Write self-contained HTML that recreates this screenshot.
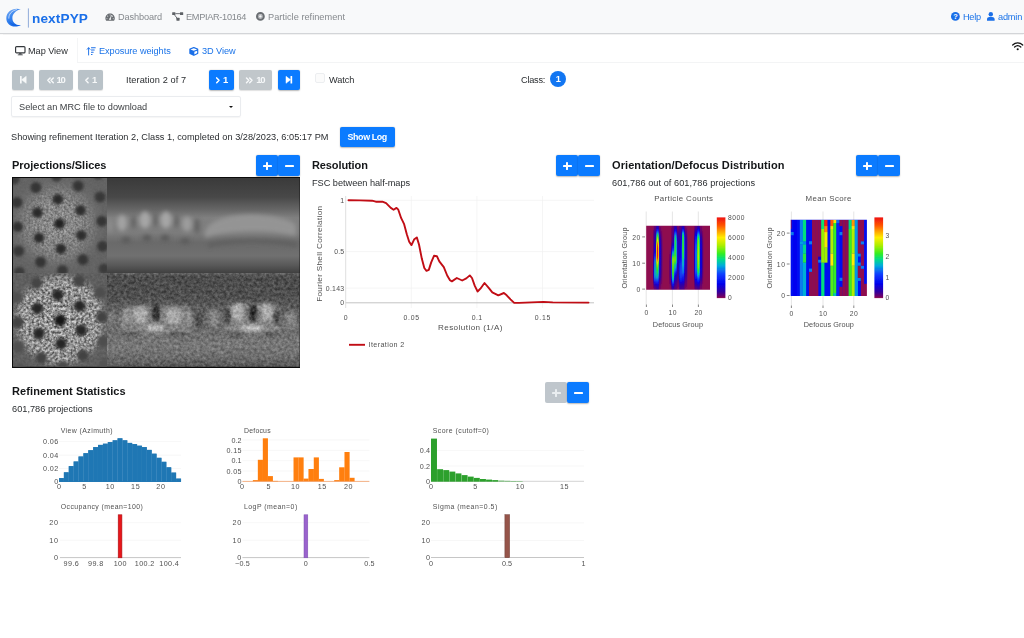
<!DOCTYPE html>
<html>
<head>
<meta charset="utf-8">
<title>nextPYP</title>
<style>
*{box-sizing:border-box;margin:0;padding:0}
html,body{width:1024px;height:638px;overflow:hidden;background:#fff}
body{font-family:"Liberation Sans",sans-serif;font-size:9.2px;color:#212529;position:relative}
.abs{position:absolute;white-space:nowrap;line-height:1}
.t,.h,.abs,.btn{will-change:transform}
.t{position:absolute;white-space:nowrap;line-height:1;font-size:9.2px;color:#2a2d30}
#nav{position:absolute;left:0;top:0;width:1024px;height:34px;background:#f8f9fa;border-bottom:1px solid #d3d5d8;box-shadow:0 0.5px 1px rgba(0,0,0,.05)}
.navt{color:#85898d}
.blue{color:#1a73e8}
.btn{position:absolute;height:20px;border-radius:2px;background:#0b7bff;color:#fff;font-weight:bold;font-size:9.5px;line-height:20.6px;white-space:nowrap;box-shadow:0 0.5px 1.5px rgba(0,0,0,.28)}
.btn.dis{background:#b9c2c8;color:#f6f8f9;box-shadow:0 0.5px 1px rgba(0,0,0,.12)}
.btn.dis2{background:#c1c7cb;color:#f6f8f9;box-shadow:0 0.5px 1px rgba(0,0,0,.12)}
.btn span{position:absolute;top:0;line-height:20.6px}
.pm{position:absolute;top:155.3px;width:22px;height:21.2px;background:#0b7bff;border-radius:2px;box-shadow:0 0.5px 1.5px rgba(0,0,0,.28)}
.pm.g{background:#bfc6cc;box-shadow:none}
.pm i{position:absolute;background:#fff;border-radius:.4px}
.pm i.h{left:6.6px;top:9.5px;width:8.6px;height:2.2px}
.pm i.v{left:9.8px;top:6.4px;width:2.2px;height:8.4px}
.pm.g i{background:#e9edf0}
.h{position:absolute;white-space:nowrap;line-height:1;font-weight:bold;font-size:11px;color:#141618}
svg{position:absolute;overflow:visible}
svg text{font-family:"Liberation Sans",sans-serif}
</style>
</head>
<body>
<!-- NAVBAR -->
<div id="nav"></div>
<svg style="left:0;top:0" width="40" height="34" viewBox="0 0 40 34">
  <defs>
    <linearGradient id="lg" x1="0" y1="0" x2="0.6" y2="1">
      <stop offset="0" stop-color="#8ab8f6"/><stop offset="0.45" stop-color="#3b86ee"/><stop offset="1" stop-color="#1266e6"/>
    </linearGradient>
  </defs>
  <path d="M20.8 9.3 C13.5 7.2 6.3 11.2 6.3 18.2 C6.3 25 13.5 29 21 25 C16.2 25.6 12.6 22.6 12.4 18.4 C12.2 14 15.6 10.6 20.8 9.3Z" fill="url(#lg)"/>
  <path d="M9 21.5 C11 25.2 15.5 26.6 20.5 25.1 C16 25.8 11.8 24.4 9 21.5Z" fill="#0f5fe0"/>
  <path d="M16.5 9.6 C11.8 10.6 8.7 14 8.8 18.2" fill="none" stroke="#c9defa" stroke-width="0.9" stroke-linecap="round"/>
  <rect x="27.9" y="8.4" width="0.9" height="19.2" fill="#86a3d6"/>
</svg>
<div class="abs" style="left:31.7px;top:11.8px;font-size:13.6px;font-weight:bold;color:#1a6fe8;--tw:55.9;letter-spacing:0.124px">nextPYP</div>

<svg style="left:105px;top:12.6px" width="10.2" height="8.4" viewBox="0 0 576 512"><path fill="#6a6e72" d="M288 32C128.940 32 0 160.940 0 320c0 52.800 14.250 102.260 39.060 144.800 5.610 9.620 16.300 15.200 27.440 15.200h443c11.140 0 21.830-5.580 27.440-15.200C561.750 422.260 576 372.800 576 320c0-159.060-128.940-288-288-288zm0 64c14.710 0 26.580 10.130 30.320 23.650-1.110 2.260-2.640 4.230-3.450 6.670l-9.220 27.670c-5.130 3.490-10.970 6.010-17.640 6.010-17.670 0-32-14.330-32-32S270.330 96 288 96zM96 384c-17.670 0-32-14.330-32-32s14.330-32 32-32 32 14.330 32 32-14.330 32-32 32zm48-160c-17.670 0-32-14.330-32-32s14.330-32 32-32 32 14.330 32 32-14.330 32-32 32zm246.770-72.410l-61.330 184C343.130 347.330 352 364.540 352 384c0 11.720-3.380 22.550-8.880 32H232.880c-5.500-9.450-8.880-20.280-8.880-32 0-33.940 26.500-61.430 59.900-63.590l61.340-184.010c4.170-12.560 17.730-19.450 30.360-15.170 12.570 4.190 19.350 17.790 15.170 30.360zm14.660 57.200l15.520-46.550c3.470-1.290 7.130-2.230 11.050-2.230 17.670 0 32 14.330 32 32s-14.330 32-32 32c-11.380-.010-20.890-6.280-26.570-15.220zM480 384c-17.670 0-32-14.330-32-32s14.330-32 32-32 32 14.330 32 32-14.330 32-32 32z"/></svg>
<div class="t navt" style="left:118px;top:13.0px;--tw:44.2;letter-spacing:-0.094px">Dashboard</div>

<svg style="left:171.6px;top:12.2px" width="11.4" height="8.9" viewBox="0 0 11.4 8.9">
  <g fill="#5d6165"><rect x="0.2" y="0.2" width="3.2" height="2.9" rx=".4"/><rect x="8" y="0.2" width="3.2" height="2.9" rx=".4"/><rect x="4.4" y="5.8" width="3.2" height="2.9" rx=".4"/></g>
  <path d="M3.4 1.65 H8 M2.3 2.6 L5.2 6.4" stroke="#5d6165" stroke-width="0.9" fill="none"/>
</svg>
<div class="t navt" style="left:185.8px;top:13.0px;--tw:60.4;letter-spacing:-0.313px">EMPIAR-10164</div>

<svg style="left:255.8px;top:12.3px" width="8.8" height="8.8" viewBox="0 0 8.8 8.8"><circle cx="4.4" cy="4.4" r="3.35" fill="none" stroke="#6a6e72" stroke-width="2.1"/><circle cx="4.4" cy="4.4" r="1.1" fill="#f2f3f4"/><circle cx="4.4" cy="4.4" r="2.2" fill="#6a6e72" opacity=".55"/><circle cx="4.4" cy="4.4" r="1.2" fill="#f4f5f6"/></svg>
<div class="t navt" style="left:267.5px;top:13.0px;--tw:77;letter-spacing:0.022px">Particle refinement</div>

<svg style="left:950.8px;top:12.2px" width="8.8" height="8.8" viewBox="0 0 8.8 8.8"><circle cx="4.4" cy="4.4" r="4.4" fill="#1a6fe8"/><text x="4.4" y="7.1" font-size="7.4" font-weight="bold" text-anchor="middle" fill="#fff">?</text></svg>
<div class="t blue" style="left:962.8px;top:13.0px;--tw:18.1;letter-spacing:-0.269px">Help</div>
<svg style="left:986.8px;top:12.4px" width="7.6" height="8.7" viewBox="0 0 7.6 8.7"><circle cx="3.8" cy="2.2" r="2.2" fill="#1a6fe8"/><path d="M0 8.7 V7.2 C0 5.6 1.2 4.9 2.4 4.9 H5.2 C6.4 4.9 7.6 5.6 7.6 7.2 V8.7Z" fill="#1a6fe8"/></svg>
<div class="t blue" style="left:997.6px;top:13.0px;--tw:24.3;letter-spacing:-0.183px">admin</div>

<!-- TABS -->
<div class="abs" style="left:77px;top:62px;width:947px;height:1px;background:#f3f4f5"></div>
<div class="abs" style="left:77.3px;top:38px;width:1px;height:24px;background:#f4f5f6"></div>
<svg style="left:14.8px;top:46.4px" width="10.6" height="9.4" viewBox="0 0 10.6 9.4"><rect x="0.6" y="0.6" width="9.4" height="6.3" rx="1" fill="none" stroke="#33373b" stroke-width="1.15"/><path d="M4.2 7.2 L3.7 8.6 H6.9 L6.4 7.2Z" fill="#33373b"/><rect x="2.7" y="8.4" width="5.2" height="0.9" rx=".4" fill="#33373b"/></svg>
<div class="t" style="left:28px;top:46.9px;--tw:39.8;letter-spacing:-0.055px">Map View</div>

<svg style="left:87.4px;top:46.6px" width="8.8" height="8.2" viewBox="0 0 8.8 8.2">
  <path d="M1.6 8 V0.9 M0.2 2.3 L1.6 0.7 L3 2.3" stroke="#1a6fe8" stroke-width="0.95" fill="none" stroke-linecap="round" stroke-linejoin="round"/>
  <g fill="#1a6fe8"><rect x="4" y="0.3" width="4.7" height="1.05" rx=".3"/><rect x="4" y="2.5" width="3.7" height="1.05" rx=".3"/><rect x="4" y="4.7" width="2.6" height="1.05" rx=".3"/><rect x="4" y="6.9" width="1.5" height="1.05" rx=".3"/></g>
</svg>
<div class="t blue" style="left:98.8px;top:46.9px;--tw:71.8;letter-spacing:-0.049px">Exposure weights</div>

<svg style="left:189.4px;top:46.7px" width="9.6" height="9" viewBox="0 0 512 512"><path fill="#1a6fe8" d="M239.1 6.3l-208 78c-18.700 7-31.100 25-31.100 45v225.100c0 18.200 10.300 34.800 26.500 42.900l208 104c13.500 6.800 29.400 6.800 42.900 0l208-104c16.300-8.100 26.500-24.800 26.500-42.900V129.300c0-20-12.400-37.900-31.100-44.900l-208-78C262 2.200 250 2.200 239.100 6.300zM256 68.400l192 72v1.100l-192 78-192-78v-1.100l192-72zm32 356V275.500l160-65v133.900l-160 80z"/></svg>
<div class="t blue" style="left:201.6px;top:46.9px;--tw:33.7;letter-spacing:-0.058px">3D View</div>

<svg style="left:1012.2px;top:41.8px" width="11.4" height="8.6" viewBox="0 0 11.4 8.6">
  <path d="M0.7 3 C3.6 0.2 7.8 0.2 10.7 3" stroke="#111" stroke-width="1.25" fill="none" stroke-linecap="round"/>
  <path d="M2.6 5 C4.4 3.3 7 3.3 8.8 5" stroke="#111" stroke-width="1.25" fill="none" stroke-linecap="round"/>
  <circle cx="5.7" cy="7.3" r="1.05" fill="#111"/>
</svg>

<!-- ITERATION BUTTONS -->
<div class="btn dis" style="left:12.2px;top:70px;width:21.6px"><svg style="left:7.7px;top:6.2px" width="6.2" height="7.6" viewBox="0 0 6.2 7.6"><rect x="0" y="0" width="1.7" height="7.6" rx=".3" fill="#f6f8f9"/><path d="M6.2 0.3 V7.3 L1.6 3.8Z" fill="#f6f8f9" stroke="#f6f8f9" stroke-width=".5" stroke-linejoin="round"/></svg></div>
<div class="btn dis" style="left:39.1px;top:70px;width:33.5px"><svg style="left:7.5px;top:6.7px" width="6.8" height="6.6" viewBox="0 0 6.8 6.6"><path d="M3.1 0.9 L0.8 3.3 L3.1 5.7 M6.3 0.9 L4 3.3 L6.3 5.7" stroke="#f6f8f9" stroke-width="1.45" fill="none" stroke-linecap="round" stroke-linejoin="round"/></svg><span style="left:17.6px;--tw:9.2;letter-spacing:-1.378px">10</span></div>
<div class="btn dis" style="left:77.9px;top:70px;width:24.6px"><svg style="left:7.2px;top:6.7px" width="3.8" height="6.6" viewBox="0 0 3.8 6.6"><path d="M3.1 0.9 L0.8 3.3 L3.1 5.7" stroke="#f6f8f9" stroke-width="1.45" fill="none" stroke-linecap="round" stroke-linejoin="round"/></svg><span style="left:13.9px">1</span></div>
<div class="t" style="left:125.8px;top:75.5px;--tw:60.1;letter-spacing:0.090px">Iteration 2 of 7</div>
<div class="btn" style="left:209.2px;top:70px;width:24.7px"><svg style="left:7.2px;top:6.7px" width="3.8" height="6.6" viewBox="0 0 3.8 6.6"><path d="M0.7 0.9 L3 3.3 L0.7 5.7" stroke="#fff" stroke-width="1.5" fill="none" stroke-linecap="round" stroke-linejoin="round"/></svg><span style="left:13.9px">1</span></div>
<div class="btn dis2" style="left:239.4px;top:70px;width:33.4px"><svg style="left:7.4px;top:6.7px" width="6.8" height="6.6" viewBox="0 0 6.8 6.6"><path d="M0.5 0.9 L2.8 3.3 L0.5 5.7 M3.7 0.9 L6 3.3 L3.7 5.7" stroke="#f6f8f9" stroke-width="1.45" fill="none" stroke-linecap="round" stroke-linejoin="round"/></svg><span style="left:17.3px;--tw:9.2;letter-spacing:-1.378px">10</span></div>
<div class="btn" style="left:278.2px;top:70px;width:21.6px"><svg style="left:7.7px;top:6.2px" width="6.2" height="7.6" viewBox="0 0 6.2 7.6"><rect x="4.5" y="0" width="1.7" height="7.6" rx=".3" fill="#fff"/><path d="M0 0.3 V7.3 L4.6 3.8Z" fill="#fff" stroke="#fff" stroke-width=".5" stroke-linejoin="round"/></svg></div>
<div class="abs" style="left:314.5px;top:73px;width:10.2px;height:10px;border:1px solid #eceef0;border-radius:2px;background:#fbfbfb"></div>
<div class="t" style="left:329px;top:75.5px;--tw:25.4;letter-spacing:-0.076px">Watch</div>
<div class="t" style="left:520.5px;top:75.5px;--tw:24.3;letter-spacing:-0.246px">Class:</div>
<div class="abs" style="left:549.7px;top:71.3px;width:16.4px;height:16.4px;border-radius:8.2px;background:#1276f2;color:#fff;font-weight:bold;font-size:9.2px;text-align:center;line-height:17.8px">1</div>

<!-- SELECT -->
<div class="abs" style="left:11px;top:96.4px;width:229.8px;height:21px;border:1px solid #eaecef;border-radius:2px;background:#fff;box-shadow:0 0.5px 1px rgba(0,0,0,.04)"></div>
<div class="t" style="left:18.8px;top:103.3px;color:#3a3d40;--tw:128.1;letter-spacing:-0.003px">Select an MRC file to download</div>
<div class="abs" style="left:229px;top:105.5px;width:0;height:0;border-left:2.2px solid transparent;border-right:2.2px solid transparent;border-top:2.5px solid #111"></div>

<div class="t" style="left:11.4px;top:132.6px;--tw:317.5;letter-spacing:0.018px">Showing refinement Iteration 2, Class 1, completed on 3/28/2023, 6:05:17 PM</div>
<div class="btn" style="left:340.2px;top:127.2px;width:54.7px;height:20.4px"><span style="left:7.5px;line-height:20.6px;font-size:8.9px;--tw:39.8;letter-spacing:-0.372px">Show Log</span></div>

<!-- SECTION HEADERS -->
<div class="h" style="left:11.8px;top:159.9px;--tw:94.5;letter-spacing:-0.016px">Projections/Slices</div>
<div class="pm" style="left:256px"><i class="h"></i><i class="v"></i></div>
<div class="pm" style="left:278px"><i class="h"></i></div>

<div class="h" style="left:311.9px;top:159.9px;--tw:55.9;letter-spacing:-0.105px">Resolution</div>
<div class="pm" style="left:556px"><i class="h"></i><i class="v"></i></div>
<div class="pm" style="left:578px"><i class="h"></i></div>
<div class="t" style="left:311.9px;top:178.8px;--tw:98.1;letter-spacing:-0.023px">FSC between half-maps</div>

<div class="h" style="left:611.9px;top:159.9px;--tw:172.5;letter-spacing:0.084px">Orientation/Defocus Distribution</div>
<div class="pm" style="left:856px"><i class="h"></i><i class="v"></i></div>
<div class="pm" style="left:878px"><i class="h"></i></div>
<div class="t" style="left:611.9px;top:178.8px;--tw:143.1;letter-spacing:0.048px">601,786 out of 601,786 projections</div>

<div class="h" style="left:11.8px;top:386.3px;--tw:113.7;letter-spacing:0.091px">Refinement Statistics</div>
<div class="pm g" style="left:545px;top:382.3px"><i class="h"></i><i class="v"></i></div>
<div class="pm" style="left:567px;top:382.3px"><i class="h"></i></div>
<div class="t" style="left:11.8px;top:405.4px;--tw:80.6;letter-spacing:0.022px">601,786 projections</div>
<svg style="left:0;top:0" width="1024" height="638" viewBox="0 0 1024 638">
<defs>
<filter id="b1" x="-30%" y="-30%" width="160%" height="160%"><feGaussianBlur stdDeviation="1.4"/></filter>
<filter id="b2" x="-40%" y="-40%" width="180%" height="180%"><feGaussianBlur stdDeviation="2"/></filter>
<filter id="b3" x="-50%" y="-50%" width="200%" height="200%"><feGaussianBlur stdDeviation="3"/></filter>
<filter id="nzA" x="0" y="0" width="100%" height="100%" color-interpolation-filters="sRGB"><feTurbulence type="fractalNoise" baseFrequency="0.45" numOctaves="3" seed="3"/><feColorMatrix type="matrix" values="1.3 0 0 0 -0.1  1.3 0 0 0 -0.1  1.3 0 0 0 -0.1  0 0 0 0 1"/><feGaussianBlur stdDeviation="0.55"/></filter>
<filter id="nzB" x="0" y="0" width="100%" height="100%" color-interpolation-filters="sRGB"><feTurbulence type="fractalNoise" baseFrequency="0.38" numOctaves="2" seed="11"/><feColorMatrix type="matrix" values="1.9 0 0 0 -0.4  1.9 0 0 0 -0.4  1.9 0 0 0 -0.4  0 0 0 0 1"/><feGaussianBlur stdDeviation="0.6"/></filter>
<filter id="nzC" x="0" y="0" width="100%" height="100%" color-interpolation-filters="sRGB"><feTurbulence type="fractalNoise" baseFrequency="0.33" numOctaves="3" seed="7"/><feColorMatrix type="matrix" values="1.5 0 0 0 -0.3  1.5 0 0 0 -0.3  1.5 0 0 0 -0.3  0 0 0 0 1"/><feGaussianBlur stdDeviation="0.6"/></filter>
<radialGradient id="tlg" cx="57" cy="224" r="50" gradientUnits="userSpaceOnUse"><stop offset="0" stop-color="#8c8c8c"/><stop offset="0.5" stop-color="#7e7e7e"/><stop offset="0.85" stop-color="#686868"/><stop offset="1" stop-color="#626262"/></radialGradient>
<radialGradient id="blg" cx="60" cy="320" r="50" gradientUnits="userSpaceOnUse"><stop offset="0" stop-color="#a2a2a2"/><stop offset="0.78" stop-color="#969696"/><stop offset="0.9" stop-color="#686868"/><stop offset="1" stop-color="#5c5c5c"/></radialGradient>
<radialGradient id="mA" cx="57" cy="224" r="42" gradientUnits="userSpaceOnUse"><stop offset="0" stop-color="#fff" stop-opacity=".55"/><stop offset="0.6" stop-color="#fff" stop-opacity=".4"/><stop offset="1" stop-color="#fff" stop-opacity="0.05"/></radialGradient>
<radialGradient id="mB" cx="60" cy="320" r="49" gradientUnits="userSpaceOnUse"><stop offset="0" stop-color="#fff" stop-opacity=".75"/><stop offset="0.8" stop-color="#fff" stop-opacity=".6"/><stop offset="1" stop-color="#fff" stop-opacity="0.08"/></radialGradient>
<mask id="mkA"><rect x="13" y="178" width="94" height="95" fill="url(#mA)"/></mask>
<mask id="mkB"><rect x="13" y="272" width="94" height="96" fill="url(#mB)"/></mask>
<linearGradient id="trg" x1="0" y1="178" x2="0" y2="273" gradientUnits="userSpaceOnUse">
<stop offset="0" stop-color="#3a3a3a"/><stop offset="0.2" stop-color="#484848"/><stop offset="0.33" stop-color="#666"/><stop offset="0.42" stop-color="#808080"/><stop offset="0.58" stop-color="#7c7c7c"/><stop offset="0.68" stop-color="#6a6a6a"/><stop offset="0.82" stop-color="#707070"/><stop offset="0.92" stop-color="#585858"/><stop offset="1" stop-color="#404040"/></linearGradient>
<linearGradient id="brg" x1="0" y1="273" x2="0" y2="367" gradientUnits="userSpaceOnUse">
<stop offset="0" stop-color="#5e5e5e"/><stop offset="0.04" stop-color="#424242"/><stop offset="0.25" stop-color="#464646"/><stop offset="0.4" stop-color="#5a5a5a"/><stop offset="0.62" stop-color="#6c6c6c"/><stop offset="0.78" stop-color="#7a7a7a"/><stop offset="0.9" stop-color="#6a6a6a"/><stop offset="1" stop-color="#505050"/></linearGradient>
<clipPath id="cTL"><rect x="13" y="178" width="94" height="95"/></clipPath>
<clipPath id="cBL"><rect x="13" y="273" width="94" height="93.8"/></clipPath>
<clipPath id="cTR"><rect x="107" y="178" width="192.6" height="95"/></clipPath>
<clipPath id="cBR"><rect x="107" y="273" width="192.6" height="93.8"/></clipPath>
</defs>
<rect x="12" y="177" width="288" height="191" fill="#0c0c0c"/>
<g clip-path="url(#cTL)">
<rect x="13" y="178" width="95" height="95" fill="url(#tlg)"/>
<rect x="13" y="178" width="95" height="95" filter="url(#nzA)" mask="url(#mkA)" opacity=".75"/>
<g filter="url(#b1)">
<circle cx="35.9" cy="187.5" r="5.5" fill="#353535"/>
<circle cx="78.2" cy="186" r="5.5" fill="#353535"/>
<circle cx="57.8" cy="199.3" r="5.3" fill="#2c2c2c"/>
<circle cx="100.1" cy="197" r="5.5" fill="#393939"/>
<circle cx="17" cy="202.4" r="5.5" fill="#363636"/>
<circle cx="37.4" cy="212.6" r="5.3" fill="#2b2b2b"/>
<circle cx="80.5" cy="210.3" r="5.3" fill="#2d2d2d"/>
<circle cx="59.4" cy="223.6" r="5.3" fill="#212121"/>
<circle cx="101.7" cy="221.2" r="5.5" fill="#363636"/>
<circle cx="17.8" cy="226.7" r="5.3" fill="#333333"/>
<circle cx="39" cy="237.7" r="5.3" fill="#2b2b2b"/>
<circle cx="81.3" cy="235.3" r="5.3" fill="#2d2d2d"/>
<circle cx="60.9" cy="248.7" r="5.3" fill="#2c2c2c"/>
<circle cx="102.5" cy="246.3" r="5.5" fill="#393939"/>
<circle cx="18.6" cy="251" r="5.5" fill="#373737"/>
<circle cx="40.6" cy="262" r="5.5" fill="#343434"/>
<circle cx="82.9" cy="259.6" r="5.5" fill="#363636"/>
<circle cx="62.5" cy="270.6" r="5.5" fill="#373737"/>
<circle cx="104" cy="269" r="5.5" fill="#3a3a3a"/>
<circle cx="19.4" cy="272.2" r="5.5" fill="#3a3a3a"/>
<circle cx="56.5" cy="176" r="5.5" fill="#383838"/>
<circle cx="14" cy="179" r="5.5" fill="#3a3a3a"/>
<circle cx="98" cy="174" r="5.5" fill="#3a3a3a"/>
</g></g>
<g clip-path="url(#cBL)">
<rect x="13" y="272" width="95" height="96" fill="url(#blg)"/>
<rect x="13" y="272" width="95" height="96" filter="url(#nzB)" mask="url(#mkB)" opacity=".8"/>
<g filter="url(#b1)">
<circle cx="36.6" cy="283.3" r="5.9" fill="#454545"/>
<circle cx="79" cy="281" r="5.9" fill="#454545"/>
<circle cx="57.8" cy="295" r="5.7" fill="#282828"/>
<circle cx="17" cy="297.4" r="5.9" fill="#4f4f4f"/>
<circle cx="100" cy="292.7" r="5.9" fill="#4e4e4e"/>
<circle cx="37.4" cy="308.4" r="5.7" fill="#282828"/>
<circle cx="79.7" cy="306" r="5.7" fill="#272727"/>
<circle cx="60.2" cy="320.2" r="5.7" fill="#141414"/>
<circle cx="101.7" cy="317" r="5.9" fill="#424242"/>
<circle cx="17.8" cy="322.5" r="5.9" fill="#434343"/>
<circle cx="39" cy="333.5" r="5.7" fill="#282828"/>
<circle cx="81.3" cy="330.3" r="5.7" fill="#262626"/>
<circle cx="61" cy="343.7" r="5.7" fill="#262626"/>
<circle cx="103.3" cy="341.3" r="5.9" fill="#4e4e4e"/>
<circle cx="18.6" cy="346.8" r="5.9" fill="#505050"/>
<circle cx="41.3" cy="357.8" r="5.9" fill="#434343"/>
<circle cx="82.9" cy="355.4" r="5.9" fill="#434343"/>
<circle cx="62.8" cy="367" r="5.9" fill="#4c4c4c"/>
<circle cx="104.5" cy="365" r="5.9" fill="#525252"/>
<circle cx="20" cy="369" r="5.9" fill="#525252"/>
</g></g>
<g clip-path="url(#cTR)">
<rect x="107" y="178" width="193" height="95" fill="url(#trg)"/>
<g filter="url(#b2)">
<ellipse cx="122" cy="223" rx="5" ry="8" fill="#a2a2a2"/>
<ellipse cx="145" cy="220" rx="5.5" ry="8.5" fill="#a6a6a6"/>
<ellipse cx="166" cy="220" rx="5.5" ry="8.5" fill="#a6a6a6"/>
<ellipse cx="187" cy="224" rx="5" ry="7.5" fill="#9c9c9c"/>
<ellipse cx="110" cy="226" rx="3" ry="7" fill="#8c8c8c"/>
<ellipse cx="126" cy="240" rx="5" ry="3" fill="#5a5a5a"/>
<ellipse cx="147" cy="238" rx="5" ry="3" fill="#585858"/>
<ellipse cx="165" cy="238" rx="5" ry="3" fill="#585858"/>
<ellipse cx="185" cy="241" rx="5" ry="3" fill="#5c5c5c"/>
<ellipse cx="133.5" cy="222" rx="2.2" ry="7" fill="#626262"/>
<ellipse cx="155.5" cy="220" rx="2.2" ry="7" fill="#626262"/>
<ellipse cx="176.5" cy="221" rx="2.2" ry="7" fill="#626262"/>
<ellipse cx="197" cy="226" rx="3" ry="8" fill="#646464"/>
<path d="M205 234 C205 222 225 215 250 214.5 C272 215 290 219 296 225 L296 236 C280 232 262 231 248 231.5 C230 232 215 234 205 238Z" fill="#949494"/>
<path d="M208 246 C225 240 270 239 297 245" stroke="#5e5e5e" stroke-width="4" fill="none"/>
</g></g>
<g clip-path="url(#cBR)">
<rect x="107" y="273" width="193" height="94" fill="url(#brg)"/>
<g filter="url(#b2)">
<rect x="121" y="306" width="70" height="28" rx="7" fill="#8a8a8a"/>
<rect x="226" y="304" width="54" height="30" rx="7" fill="#8c8c8c"/>
<ellipse cx="214" cy="318" rx="5.5" ry="9" fill="#929292"/>
<ellipse cx="291" cy="320" rx="6" ry="9" fill="#8e8e8e"/>
<ellipse cx="112" cy="318" rx="4" ry="8" fill="#808080"/>
</g><g filter="url(#b1)">
<ellipse cx="141" cy="315" rx="7.5" ry="8.5" fill="#bcbcbc"/>
<ellipse cx="173" cy="316" rx="8" ry="8.5" fill="#b8b8b8"/>
<ellipse cx="238" cy="312" rx="6.5" ry="8.5" fill="#bebebe"/>
<ellipse cx="266" cy="312" rx="6.5" ry="8.5" fill="#bebebe"/>
<ellipse cx="155" cy="328" rx="9" ry="2.4" fill="#dedede"/>
<ellipse cx="252" cy="328" rx="12" ry="2.4" fill="#dcdcdc"/>
<ellipse cx="126" cy="316" rx="3.5" ry="7" fill="#a0a0a0"/>
<ellipse cx="189" cy="318" rx="3" ry="7" fill="#9c9c9c"/>
<ellipse cx="156" cy="313" rx="4" ry="9.5" fill="#1c1c1c"/>
<ellipse cx="253" cy="313" rx="4.4" ry="9.5" fill="#1e1e1e"/>
<ellipse cx="228" cy="316" rx="3.4" ry="8" fill="#363636"/>
<ellipse cx="277" cy="317" rx="3.4" ry="8" fill="#383838"/>
<ellipse cx="199" cy="320" rx="4.6" ry="8" fill="#464646"/>
<ellipse cx="131.5" cy="333.5" rx="9" ry="2" fill="#4a4a4a"/>
<ellipse cx="178" cy="333.5" rx="9" ry="2" fill="#4a4a4a"/>
<ellipse cx="236" cy="334" rx="8" ry="2" fill="#4c4c4c"/>
<ellipse cx="270" cy="334" rx="8" ry="2" fill="#4c4c4c"/>
<ellipse cx="148.5" cy="316" rx="1.2" ry="7" fill="#6a6a6a"/>
<ellipse cx="165" cy="316" rx="1.2" ry="7" fill="#6a6a6a"/>
<ellipse cx="245" cy="314" rx="1.1" ry="7" fill="#6a6a6a"/>
<ellipse cx="260.5" cy="314" rx="1.1" ry="7" fill="#6a6a6a"/>
</g>
<rect x="107" y="273" width="193" height="94" filter="url(#nzC)" opacity=".22"/>
</g>
</svg>
<svg style="left:0;top:0" width="1024" height="638" viewBox="0 0 1024 638">
<line x1="411.3" y1="196" x2="411.3" y2="308" stroke="#f0f0f0" stroke-width="0.7"/>
<line x1="476.9" y1="196" x2="476.9" y2="308" stroke="#f0f0f0" stroke-width="0.7"/>
<line x1="542.5" y1="196" x2="542.5" y2="308" stroke="#f0f0f0" stroke-width="0.7"/>
<line x1="345.7" y1="251.6" x2="594" y2="251.6" stroke="#f0f0f0" stroke-width="0.7"/>
<line x1="345.7" y1="200.3" x2="594" y2="200.3" stroke="#f0f0f0" stroke-width="0.7"/>
<line x1="345.7" y1="288.1" x2="594" y2="288.1" stroke="#f0f0f0" stroke-width="0.7"/>
<line x1="345.7" y1="196" x2="345.7" y2="308" stroke="#dcdcdc" stroke-width="0.9"/>
<line x1="345.7" y1="302.8" x2="594" y2="302.8" stroke="#c4c4c4" stroke-width="1"/>
<text x="344.2" y="202.8" font-size="6.9" text-anchor="end" fill="#505050">1</text>
<text x="344.2" y="254.05" font-size="6.9" text-anchor="end" fill="#505050" textLength="10" lengthAdjust="spacing">0.5</text>
<text x="344.2" y="290.64250000000004" font-size="6.9" text-anchor="end" fill="#505050" textLength="18.4" lengthAdjust="spacing">0.143</text>
<text x="344.2" y="305.3" font-size="6.9" text-anchor="end" fill="#505050">0</text>
<text x="345.7" y="320.2" font-size="6.9" text-anchor="middle" fill="#505050">0</text>
<text x="411.3" y="320.2" font-size="6.9" text-anchor="middle" fill="#505050" textLength="15.5" lengthAdjust="spacing">0.05</text>
<text x="476.9" y="320.2" font-size="6.9" text-anchor="middle" fill="#505050" textLength="10.4" lengthAdjust="spacing">0.1</text>
<text x="542.5" y="320.2" font-size="6.9" text-anchor="middle" fill="#505050" textLength="15.5" lengthAdjust="spacing">0.15</text>
<text x="470.2" y="330.4" font-size="8.1" text-anchor="middle" fill="#505050" textLength="64.6" lengthAdjust="spacing">Resolution (1/A)</text>
<text transform="translate(322.4,253.9) rotate(-90)" font-size="8.1" text-anchor="middle" fill="#505050" textLength="95.8" lengthAdjust="spacing">Fourier Shell Correlation</text>
<path d="M348.5 200.3 L360.0 200.4 L372.0 200.7 L375.8 201.7 L382.4 201.7 L386.1 203.2 L390.8 207.9 L393.6 209.7 L396.5 207.9 L398.3 209.7 L401.2 218.2 L404.0 223.8 L406.8 234.2 L409.2 241.7 L411.5 245.1 L414.3 239.2 L416.8 237.4 L419.0 244.5 L421.8 258.6 L424.3 268.0 L426.5 270.8 L428.8 269.9 L431.2 262.4 L434.0 255.8 L436.9 256.2 L439.3 261.4 L443.8 267.1 L447.2 275.5 L450.0 280.2 L451.9 281.4 L456.8 278.0 L462.2 280.5 L466.3 278.4 L469.8 275.4 L472.0 278.0 L474.8 285.9 L477.6 291.5 L480.4 288.7 L484.5 283.0 L488.5 287.7 L492.3 292.4 L498.3 295.3 L503.9 293.0 L506.7 295.3 L510.5 299.4 L514.2 302.9 L519.0 302.9 L543.4 301.9 L552.8 302.4 L588.5 302.6" fill="none" stroke="#c10d15" stroke-width="1.9" stroke-linejoin="round" stroke-linecap="round"/>
<line x1="349" y1="344.8" x2="365" y2="344.8" stroke="#c10d15" stroke-width="1.9"/>
<text x="368.6" y="347.3" font-size="7.2" text-anchor="start" fill="#505050" textLength="35.7" lengthAdjust="spacing">Iteration 2</text>
<line x1="59" y1="441.6" x2="181" y2="441.6" stroke="#f5f5f5" stroke-width="0.8"/>
<line x1="59" y1="455.2" x2="181" y2="455.2" stroke="#f5f5f5" stroke-width="0.8"/>
<line x1="59" y1="468.5" x2="181" y2="468.5" stroke="#f5f5f5" stroke-width="0.8"/>
<text x="60.7" y="432.8" font-size="6.9" text-anchor="start" fill="#505050" textLength="51.8" lengthAdjust="spacing">View (Azimuth)</text>
<text x="58.2" y="444.20000000000005" font-size="7.2" text-anchor="end" fill="#505050" textLength="15.2" lengthAdjust="spacing">0.06</text>
<text x="58.2" y="457.8" font-size="7.2" text-anchor="end" fill="#505050" textLength="15.2" lengthAdjust="spacing">0.04</text>
<text x="58.2" y="471.1" font-size="7.2" text-anchor="end" fill="#505050" textLength="15.2" lengthAdjust="spacing">0.02</text>
<text x="58.2" y="483.8" font-size="7.2" text-anchor="end" fill="#505050">0</text>
<text x="59" y="489.40000000000003" font-size="7.2" text-anchor="middle" fill="#505050">0</text>
<text x="84.3" y="489.40000000000003" font-size="7.2" text-anchor="middle" fill="#505050">5</text>
<text x="110" y="489.40000000000003" font-size="7.2" text-anchor="middle" fill="#505050" textLength="8.6" lengthAdjust="spacing">10</text>
<text x="135.4" y="489.40000000000003" font-size="7.2" text-anchor="middle" fill="#505050" textLength="8.6" lengthAdjust="spacing">15</text>
<text x="160.6" y="489.40000000000003" font-size="7.2" text-anchor="middle" fill="#505050" textLength="8.6" lengthAdjust="spacing">20</text>
<rect x="59.00" y="478.1" width="4.98" height="3.6" fill="#4d93c4"/>
<rect x="63.88" y="472.3" width="4.98" height="9.4" fill="#4d93c4"/>
<rect x="68.76" y="466.1" width="4.98" height="15.6" fill="#4d93c4"/>
<rect x="73.64" y="461.5" width="4.98" height="20.2" fill="#4d93c4"/>
<rect x="78.52" y="456.5" width="4.98" height="25.2" fill="#4d93c4"/>
<rect x="83.40" y="453.2" width="4.98" height="28.5" fill="#4d93c4"/>
<rect x="88.28" y="450.2" width="4.98" height="31.5" fill="#4d93c4"/>
<rect x="93.16" y="447.1" width="4.98" height="34.6" fill="#4d93c4"/>
<rect x="98.04" y="444.9" width="4.98" height="36.8" fill="#4d93c4"/>
<rect x="102.92" y="443.7" width="4.98" height="38.0" fill="#4d93c4"/>
<rect x="107.80" y="442.1" width="4.98" height="39.6" fill="#4d93c4"/>
<rect x="112.68" y="440.3" width="4.98" height="41.4" fill="#4d93c4"/>
<rect x="117.56" y="438.3" width="4.98" height="43.4" fill="#4d93c4"/>
<rect x="122.44" y="440.3" width="4.98" height="41.4" fill="#4d93c4"/>
<rect x="127.32" y="442.9" width="4.98" height="38.8" fill="#4d93c4"/>
<rect x="132.20" y="444.1" width="4.98" height="37.6" fill="#4d93c4"/>
<rect x="137.08" y="445.7" width="4.98" height="36.0" fill="#4d93c4"/>
<rect x="141.96" y="447.1" width="4.98" height="34.6" fill="#4d93c4"/>
<rect x="146.84" y="449.9" width="4.98" height="31.8" fill="#4d93c4"/>
<rect x="151.72" y="453.7" width="4.98" height="28.0" fill="#4d93c4"/>
<rect x="156.60" y="457.8" width="4.98" height="23.9" fill="#4d93c4"/>
<rect x="161.48" y="461.8" width="4.98" height="19.9" fill="#4d93c4"/>
<rect x="166.36" y="467.3" width="4.98" height="14.4" fill="#4d93c4"/>
<rect x="171.24" y="472.6" width="4.98" height="9.1" fill="#4d93c4"/>
<rect x="176.12" y="478.6" width="4.98" height="3.1" fill="#4d93c4"/>
<rect x="59.00" y="478.1" width="4.76" height="3.6" fill="#1f77b4"/>
<rect x="63.88" y="472.3" width="4.76" height="9.4" fill="#1f77b4"/>
<rect x="68.76" y="466.1" width="4.76" height="15.6" fill="#1f77b4"/>
<rect x="73.64" y="461.5" width="4.76" height="20.2" fill="#1f77b4"/>
<rect x="78.52" y="456.5" width="4.76" height="25.2" fill="#1f77b4"/>
<rect x="83.40" y="453.2" width="4.76" height="28.5" fill="#1f77b4"/>
<rect x="88.28" y="450.2" width="4.76" height="31.5" fill="#1f77b4"/>
<rect x="93.16" y="447.1" width="4.76" height="34.6" fill="#1f77b4"/>
<rect x="98.04" y="444.9" width="4.76" height="36.8" fill="#1f77b4"/>
<rect x="102.92" y="443.7" width="4.76" height="38.0" fill="#1f77b4"/>
<rect x="107.80" y="442.1" width="4.76" height="39.6" fill="#1f77b4"/>
<rect x="112.68" y="440.3" width="4.76" height="41.4" fill="#1f77b4"/>
<rect x="117.56" y="438.3" width="4.76" height="43.4" fill="#1f77b4"/>
<rect x="122.44" y="440.3" width="4.76" height="41.4" fill="#1f77b4"/>
<rect x="127.32" y="442.9" width="4.76" height="38.8" fill="#1f77b4"/>
<rect x="132.20" y="444.1" width="4.76" height="37.6" fill="#1f77b4"/>
<rect x="137.08" y="445.7" width="4.76" height="36.0" fill="#1f77b4"/>
<rect x="141.96" y="447.1" width="4.76" height="34.6" fill="#1f77b4"/>
<rect x="146.84" y="449.9" width="4.76" height="31.8" fill="#1f77b4"/>
<rect x="151.72" y="453.7" width="4.76" height="28.0" fill="#1f77b4"/>
<rect x="156.60" y="457.8" width="4.76" height="23.9" fill="#1f77b4"/>
<rect x="161.48" y="461.8" width="4.76" height="19.9" fill="#1f77b4"/>
<rect x="166.36" y="467.3" width="4.76" height="14.4" fill="#1f77b4"/>
<rect x="171.24" y="472.6" width="4.76" height="9.1" fill="#1f77b4"/>
<rect x="176.12" y="478.6" width="4.76" height="3.1" fill="#1f77b4"/>
<line x1="59" y1="481.5" x2="181" y2="481.5" stroke="#1f77b4" stroke-width="0.9"/>
<line x1="242.4" y1="439.9" x2="369.4" y2="439.9" stroke="#f5f5f5" stroke-width="0.8"/>
<line x1="242.4" y1="450.4" x2="369.4" y2="450.4" stroke="#f5f5f5" stroke-width="0.8"/>
<line x1="242.4" y1="460.7" x2="369.4" y2="460.7" stroke="#f5f5f5" stroke-width="0.8"/>
<line x1="242.4" y1="471" x2="369.4" y2="471" stroke="#f5f5f5" stroke-width="0.8"/>
<text x="244" y="432.8" font-size="6.9" text-anchor="start" fill="#505050" textLength="26.6" lengthAdjust="spacing">Defocus</text>
<text x="241.6" y="442.5" font-size="7.2" text-anchor="end" fill="#505050" textLength="10.2" lengthAdjust="spacing">0.2</text>
<text x="241.6" y="453.0" font-size="7.2" text-anchor="end" fill="#505050" textLength="15.2" lengthAdjust="spacing">0.15</text>
<text x="241.6" y="463.3" font-size="7.2" text-anchor="end" fill="#505050" textLength="10.2" lengthAdjust="spacing">0.1</text>
<text x="241.6" y="473.6" font-size="7.2" text-anchor="end" fill="#505050" textLength="15.2" lengthAdjust="spacing">0.05</text>
<text x="241.6" y="483.8" font-size="7.2" text-anchor="end" fill="#505050">0</text>
<text x="242" y="489.40000000000003" font-size="7.2" text-anchor="middle" fill="#505050">0</text>
<text x="268.5" y="489.40000000000003" font-size="7.2" text-anchor="middle" fill="#505050">5</text>
<text x="295.2" y="489.40000000000003" font-size="7.2" text-anchor="middle" fill="#505050" textLength="8.6" lengthAdjust="spacing">10</text>
<text x="322" y="489.40000000000003" font-size="7.2" text-anchor="middle" fill="#505050" textLength="8.6" lengthAdjust="spacing">15</text>
<text x="348.3" y="489.40000000000003" font-size="7.2" text-anchor="middle" fill="#505050" textLength="8.6" lengthAdjust="spacing">20</text>
<rect x="252.85" y="480.1" width="5.13" height="1.6" fill="#ff7f0e"/>
<rect x="257.83" y="459.8" width="5.13" height="21.9" fill="#ff7f0e"/>
<rect x="262.81" y="438.3" width="5.13" height="43.4" fill="#ff7f0e"/>
<rect x="267.79" y="476.1" width="5.13" height="5.6" fill="#ff7f0e"/>
<rect x="272.77" y="480.9" width="5.13" height="0.8" fill="#ff7f0e"/>
<rect x="293.52" y="457.4" width="5.13" height="24.3" fill="#ff7f0e"/>
<rect x="298.50" y="457.4" width="5.13" height="24.3" fill="#ff7f0e"/>
<rect x="303.48" y="478.6" width="5.13" height="3.1" fill="#ff7f0e"/>
<rect x="308.46" y="469.0" width="5.46" height="12.7" fill="#ff7f0e"/>
<rect x="313.77" y="457.4" width="5.13" height="24.3" fill="#ff7f0e"/>
<rect x="318.75" y="478.9" width="5.13" height="2.8" fill="#ff7f0e"/>
<rect x="334.19" y="480.1" width="5.13" height="1.6" fill="#ff7f0e"/>
<rect x="339.17" y="467.3" width="5.46" height="14.4" fill="#ff7f0e"/>
<rect x="344.48" y="452.0" width="5.13" height="29.7" fill="#ff7f0e"/>
<rect x="349.46" y="477.8" width="5.13" height="3.9" fill="#ff7f0e"/>
<line x1="242.4" y1="481.4" x2="369.4" y2="481.4" stroke="#f1a777" stroke-width="0.9"/>
<line x1="431" y1="450.6" x2="584" y2="450.6" stroke="#f5f5f5" stroke-width="0.8"/>
<line x1="431" y1="466" x2="584" y2="466" stroke="#f5f5f5" stroke-width="0.8"/>
<text x="432.8" y="432.8" font-size="6.9" text-anchor="start" fill="#505050" textLength="56.1" lengthAdjust="spacing">Score (cutoff=0)</text>
<text x="430" y="453.20000000000005" font-size="7.2" text-anchor="end" fill="#505050" textLength="10.2" lengthAdjust="spacing">0.4</text>
<text x="430" y="468.6" font-size="7.2" text-anchor="end" fill="#505050" textLength="10.2" lengthAdjust="spacing">0.2</text>
<text x="430" y="483.6" font-size="7.2" text-anchor="end" fill="#505050">0</text>
<text x="431" y="489.40000000000003" font-size="7.2" text-anchor="middle" fill="#505050">0</text>
<text x="475.3" y="489.40000000000003" font-size="7.2" text-anchor="middle" fill="#505050">5</text>
<text x="520" y="489.40000000000003" font-size="7.2" text-anchor="middle" fill="#505050" textLength="8.6" lengthAdjust="spacing">10</text>
<text x="564.2" y="489.40000000000003" font-size="7.2" text-anchor="middle" fill="#505050" textLength="8.6" lengthAdjust="spacing">15</text>
<line x1="431" y1="481.3" x2="584" y2="481.3" stroke="#cfcfcf" stroke-width="0.9"/>
<rect x="431.00" y="438.6" width="5.97" height="43.1" fill="#2ca02c" opacity="1"/>
<rect x="437.12" y="469.2" width="5.97" height="12.5" fill="#2ca02c" opacity="1"/>
<rect x="443.24" y="470.1" width="5.97" height="11.6" fill="#2ca02c" opacity="1"/>
<rect x="449.36" y="471.6" width="5.97" height="10.1" fill="#2ca02c" opacity="1"/>
<rect x="455.48" y="473.4" width="5.97" height="8.3" fill="#2ca02c" opacity="1"/>
<rect x="461.60" y="475.1" width="5.97" height="6.6" fill="#2ca02c" opacity="1"/>
<rect x="467.72" y="476.6" width="5.97" height="5.1" fill="#2ca02c" opacity="1"/>
<rect x="473.84" y="477.9" width="5.97" height="3.8" fill="#2ca02c" opacity="1"/>
<rect x="479.96" y="479" width="5.97" height="2.7" fill="#2ca02c" opacity="1"/>
<rect x="486.08" y="479.6" width="5.97" height="2.1" fill="#2ca02c" opacity="1"/>
<rect x="492.20" y="480.1" width="5.97" height="1.6" fill="#2ca02c" opacity="1"/>
<rect x="498.32" y="480.5" width="5.97" height="1.2" fill="#2ca02c" opacity="0.6"/>
<rect x="504.44" y="480.8" width="5.97" height="0.9" fill="#2ca02c" opacity="0.6"/>
<rect x="510.56" y="481.0" width="5.97" height="0.7" fill="#2ca02c" opacity="0.6"/>
<rect x="516.68" y="481.1" width="5.97" height="0.6" fill="#2ca02c" opacity="0.6"/>
<line x1="59.9" y1="522.7" x2="181" y2="522.7" stroke="#f5f5f5" stroke-width="0.8"/>
<line x1="59.9" y1="540.3" x2="181" y2="540.3" stroke="#f5f5f5" stroke-width="0.8"/>
<text x="60.7" y="509.1" font-size="6.9" text-anchor="start" fill="#505050" textLength="82.2" lengthAdjust="spacing">Occupancy (mean=100)</text>
<text x="57.9" y="525.3000000000001" font-size="7.2" text-anchor="end" fill="#505050" textLength="8.6" lengthAdjust="spacing">20</text>
<text x="57.9" y="542.9" font-size="7.2" text-anchor="end" fill="#505050" textLength="8.6" lengthAdjust="spacing">10</text>
<text x="57.9" y="560.1" font-size="7.2" text-anchor="end" fill="#505050">0</text>
<text x="71.2" y="565.6" font-size="7.2" text-anchor="middle" fill="#505050" textLength="15.2" lengthAdjust="spacing">99.6</text>
<text x="95.6" y="565.6" font-size="7.2" text-anchor="middle" fill="#505050" textLength="15.2" lengthAdjust="spacing">99.8</text>
<text x="120.1" y="565.6" font-size="7.2" text-anchor="middle" fill="#505050" textLength="12.9" lengthAdjust="spacing">100</text>
<text x="144.5" y="565.6" font-size="7.2" text-anchor="middle" fill="#505050" textLength="19.5" lengthAdjust="spacing">100.2</text>
<text x="169.1" y="565.6" font-size="7.2" text-anchor="middle" fill="#505050" textLength="19.5" lengthAdjust="spacing">100.4</text>
<line x1="59.9" y1="557.6" x2="181" y2="557.6" stroke="#c6c6c6" stroke-width="1"/>
<rect x="118.2" y="514.8" width="3.7" height="43" fill="#e8161a" stroke="#a81216" stroke-width="0.6"/>
<line x1="242.4" y1="522.7" x2="369.4" y2="522.7" stroke="#f5f5f5" stroke-width="0.8"/>
<line x1="242.4" y1="540.3" x2="369.4" y2="540.3" stroke="#f5f5f5" stroke-width="0.8"/>
<text x="244" y="509.1" font-size="6.9" text-anchor="start" fill="#505050" textLength="53.2" lengthAdjust="spacing">LogP (mean=0)</text>
<text x="241.2" y="525.3000000000001" font-size="7.2" text-anchor="end" fill="#505050" textLength="8.6" lengthAdjust="spacing">20</text>
<text x="241.2" y="542.9" font-size="7.2" text-anchor="end" fill="#505050" textLength="8.6" lengthAdjust="spacing">10</text>
<text x="241.2" y="559.9" font-size="7.2" text-anchor="end" fill="#505050">0</text>
<text x="242.4" y="565.6" font-size="7.2" text-anchor="middle" fill="#505050" textLength="14.6" lengthAdjust="spacing">−0.5</text>
<text x="305.8" y="565.6" font-size="7.2" text-anchor="middle" fill="#505050">0</text>
<text x="369.4" y="565.6" font-size="7.2" text-anchor="middle" fill="#505050" textLength="10.2" lengthAdjust="spacing">0.5</text>
<line x1="242.4" y1="557.6" x2="369.4" y2="557.6" stroke="#c6c6c6" stroke-width="1"/>
<rect x="304" y="514.8" width="3.8" height="43" fill="#9a63cd" stroke="#7d4fb0" stroke-width="0.5"/>
<line x1="431" y1="522.8" x2="584" y2="522.8" stroke="#f5f5f5" stroke-width="0.8"/>
<line x1="431" y1="540.5" x2="584" y2="540.5" stroke="#f5f5f5" stroke-width="0.8"/>
<text x="432.8" y="509.1" font-size="6.9" text-anchor="start" fill="#505050" textLength="64.4" lengthAdjust="spacing">Sigma (mean=0.5)</text>
<text x="430" y="525.4" font-size="7.2" text-anchor="end" fill="#505050" textLength="8.6" lengthAdjust="spacing">20</text>
<text x="430" y="543.1" font-size="7.2" text-anchor="end" fill="#505050" textLength="8.6" lengthAdjust="spacing">10</text>
<text x="430" y="559.9" font-size="7.2" text-anchor="end" fill="#505050">0</text>
<text x="431" y="565.6" font-size="7.2" text-anchor="middle" fill="#505050">0</text>
<text x="507" y="565.6" font-size="7.2" text-anchor="middle" fill="#505050" textLength="10.2" lengthAdjust="spacing">0.5</text>
<text x="583.5" y="565.6" font-size="7.2" text-anchor="middle" fill="#505050">1</text>
<line x1="431" y1="557.5" x2="584" y2="557.5" stroke="#c6c6c6" stroke-width="1"/>
<rect x="504.9" y="514.7" width="4.7" height="43" fill="#96554a" stroke="#6f3d35" stroke-width="0.5"/>
</svg>
<svg style="left:0;top:0" width="1024" height="638" viewBox="0 0 1024 638">
<defs>
<linearGradient id="cbar" x1="0" y1="0" x2="0" y2="1"><stop offset="0.00" stop-color="#ee1111"/><stop offset="0.10" stop-color="#ff5500"/><stop offset="0.18" stop-color="#ffaa00"/><stop offset="0.25" stop-color="#ffee00"/><stop offset="0.35" stop-color="#aaee00"/><stop offset="0.45" stop-color="#33ee22"/><stop offset="0.52" stop-color="#00dd88"/><stop offset="0.60" stop-color="#00aadd"/><stop offset="0.70" stop-color="#1040ff"/><stop offset="0.82" stop-color="#0000ee"/><stop offset="0.92" stop-color="#3000a0"/><stop offset="0.97" stop-color="#660070"/><stop offset="1.00" stop-color="#8e0c50"/></linearGradient>
<filter id="soft" x="-5%" y="-5%" width="110%" height="110%"><feGaussianBlur stdDeviation="0.45"/></filter>
<clipPath id="h1c"><rect x="646.2" y="225.8" width="63.8" height="63.9"/></clipPath>
<clipPath id="h2c"><rect x="790.7" y="219.8" width="76.2" height="76.2"/></clipPath>
<linearGradient id="s0" x1="0" y1="0" x2="0" y2="1"><stop offset="0.000" stop-color="#80085b"/><stop offset="0.038" stop-color="#7c075f"/><stop offset="0.077" stop-color="#720466"/><stop offset="0.115" stop-color="#6a016d"/><stop offset="0.154" stop-color="#640071"/><stop offset="0.192" stop-color="#600075"/><stop offset="0.231" stop-color="#5c0079"/><stop offset="0.269" stop-color="#57007d"/><stop offset="0.308" stop-color="#530081"/><stop offset="0.346" stop-color="#4e0085"/><stop offset="0.385" stop-color="#49008a"/><stop offset="0.423" stop-color="#400092"/><stop offset="0.462" stop-color="#2f00a2"/><stop offset="0.500" stop-color="#2500b2"/><stop offset="0.538" stop-color="#1d00bf"/><stop offset="0.577" stop-color="#1900c5"/><stop offset="0.615" stop-color="#1700c9"/><stop offset="0.654" stop-color="#1500cc"/><stop offset="0.692" stop-color="#1300cf"/><stop offset="0.731" stop-color="#1300d0"/><stop offset="0.769" stop-color="#1400cd"/><stop offset="0.808" stop-color="#1900c6"/><stop offset="0.846" stop-color="#2300b5"/><stop offset="0.885" stop-color="#36009b"/><stop offset="0.923" stop-color="#58007c"/><stop offset="0.962" stop-color="#720466"/><stop offset="1.000" stop-color="#7d075e"/></linearGradient>
<linearGradient id="s1" x1="0" y1="0" x2="0" y2="1"><stop offset="0.000" stop-color="#650071"/><stop offset="0.038" stop-color="#5b0079"/><stop offset="0.077" stop-color="#45008d"/><stop offset="0.115" stop-color="#3000a0"/><stop offset="0.154" stop-color="#2a00a9"/><stop offset="0.192" stop-color="#2500b3"/><stop offset="0.231" stop-color="#1f00bc"/><stop offset="0.269" stop-color="#1900c5"/><stop offset="0.308" stop-color="#1300cf"/><stop offset="0.346" stop-color="#0e00d8"/><stop offset="0.385" stop-color="#0700e3"/><stop offset="0.423" stop-color="#0106f0"/><stop offset="0.462" stop-color="#0820f6"/><stop offset="0.500" stop-color="#1040ff"/><stop offset="0.538" stop-color="#0873ef"/><stop offset="0.577" stop-color="#048de6"/><stop offset="0.615" stop-color="#029be2"/><stop offset="0.654" stop-color="#00a8de"/><stop offset="0.692" stop-color="#00b0d3"/><stop offset="0.731" stop-color="#00b2d0"/><stop offset="0.769" stop-color="#00acda"/><stop offset="0.808" stop-color="#048ee6"/><stop offset="0.846" stop-color="#0e4efa"/><stop offset="0.885" stop-color="#0514f3"/><stop offset="0.923" stop-color="#1b00c3"/><stop offset="0.962" stop-color="#45008d"/><stop offset="1.000" stop-color="#5e0077"/></linearGradient>
<linearGradient id="s2" x1="0" y1="0" x2="0" y2="1"><stop offset="0.000" stop-color="#640072"/><stop offset="0.038" stop-color="#5a007b"/><stop offset="0.077" stop-color="#420090"/><stop offset="0.115" stop-color="#2e00a3"/><stop offset="0.154" stop-color="#2800ad"/><stop offset="0.192" stop-color="#2200b7"/><stop offset="0.231" stop-color="#1b00c1"/><stop offset="0.269" stop-color="#1500cc"/><stop offset="0.308" stop-color="#0f00d6"/><stop offset="0.346" stop-color="#0900df"/><stop offset="0.385" stop-color="#0300ea"/><stop offset="0.423" stop-color="#030bf1"/><stop offset="0.462" stop-color="#0924f8"/><stop offset="0.500" stop-color="#0f48fc"/><stop offset="0.538" stop-color="#0779ed"/><stop offset="0.577" stop-color="#0492e5"/><stop offset="0.615" stop-color="#029ee1"/><stop offset="0.654" stop-color="#00aadd"/><stop offset="0.692" stop-color="#00b1d1"/><stop offset="0.731" stop-color="#00b3cf"/><stop offset="0.769" stop-color="#00add9"/><stop offset="0.808" stop-color="#048fe6"/><stop offset="0.846" stop-color="#0e4efa"/><stop offset="0.885" stop-color="#0515f3"/><stop offset="0.923" stop-color="#1a00c3"/><stop offset="0.962" stop-color="#44008e"/><stop offset="1.000" stop-color="#5d0078"/></linearGradient>
<linearGradient id="s3" x1="0" y1="0" x2="0" y2="1"><stop offset="0.000" stop-color="#3000a1"/><stop offset="0.038" stop-color="#1e00bd"/><stop offset="0.077" stop-color="#0513f3"/><stop offset="0.115" stop-color="#0a65f3"/><stop offset="0.154" stop-color="#00bfb9"/><stop offset="0.192" stop-color="#15e45d"/><stop offset="0.231" stop-color="#52ee19"/><stop offset="0.269" stop-color="#a9ee00"/><stop offset="0.308" stop-color="#e3ee00"/><stop offset="0.346" stop-color="#ffe600"/><stop offset="0.385" stop-color="#ffdb00"/><stop offset="0.423" stop-color="#ffd400"/><stop offset="0.462" stop-color="#ffc800"/><stop offset="0.500" stop-color="#ffc900"/><stop offset="0.538" stop-color="#e1ee00"/><stop offset="0.577" stop-color="#98ee05"/><stop offset="0.615" stop-color="#5bee17"/><stop offset="0.654" stop-color="#2dec2e"/><stop offset="0.692" stop-color="#15e45d"/><stop offset="0.731" stop-color="#02de85"/><stop offset="0.769" stop-color="#00c8ab"/><stop offset="0.808" stop-color="#00a8de"/><stop offset="0.846" stop-color="#0c5bf6"/><stop offset="0.885" stop-color="#081ff6"/><stop offset="0.923" stop-color="#0b00dc"/><stop offset="0.962" stop-color="#2a00a9"/><stop offset="1.000" stop-color="#410091"/></linearGradient>
<linearGradient id="s4" x1="0" y1="0" x2="0" y2="1"><stop offset="0.000" stop-color="#2600b0"/><stop offset="0.038" stop-color="#1000d4"/><stop offset="0.077" stop-color="#0d32fb"/><stop offset="0.115" stop-color="#00bfba"/><stop offset="0.154" stop-color="#44ee1d"/><stop offset="0.192" stop-color="#b6ee00"/><stop offset="0.231" stop-color="#ffec00"/><stop offset="0.269" stop-color="#ff8c00"/><stop offset="0.308" stop-color="#f93c06"/><stop offset="0.346" stop-color="#f0180f"/><stop offset="0.385" stop-color="#ee1111"/><stop offset="0.423" stop-color="#ee1111"/><stop offset="0.462" stop-color="#ee1211"/><stop offset="0.500" stop-color="#f2220d"/><stop offset="0.538" stop-color="#ff8500"/><stop offset="0.577" stop-color="#f2ee00"/><stop offset="0.615" stop-color="#b1ee00"/><stop offset="0.654" stop-color="#6bee12"/><stop offset="0.692" stop-color="#31ed26"/><stop offset="0.731" stop-color="#15e45e"/><stop offset="0.769" stop-color="#00d29a"/><stop offset="0.808" stop-color="#00aed6"/><stop offset="0.846" stop-color="#0b60f5"/><stop offset="0.885" stop-color="#0923f7"/><stop offset="0.923" stop-color="#0500e6"/><stop offset="0.962" stop-color="#2500b3"/><stop offset="1.000" stop-color="#35009b"/></linearGradient>
<linearGradient id="s5" x1="0" y1="0" x2="0" y2="1"><stop offset="0.000" stop-color="#32009f"/><stop offset="0.038" stop-color="#1f00bb"/><stop offset="0.077" stop-color="#0513f3"/><stop offset="0.115" stop-color="#0a6af2"/><stop offset="0.154" stop-color="#00c6af"/><stop offset="0.192" stop-color="#21e846"/><stop offset="0.231" stop-color="#6aee12"/><stop offset="0.269" stop-color="#bcee00"/><stop offset="0.308" stop-color="#f8ee00"/><stop offset="0.346" stop-color="#ffce00"/><stop offset="0.385" stop-color="#ffc500"/><stop offset="0.423" stop-color="#ffc500"/><stop offset="0.462" stop-color="#ffc600"/><stop offset="0.500" stop-color="#ffd800"/><stop offset="0.538" stop-color="#c5ee00"/><stop offset="0.577" stop-color="#63ee14"/><stop offset="0.615" stop-color="#25e93d"/><stop offset="0.654" stop-color="#02de83"/><stop offset="0.692" stop-color="#00c6ae"/><stop offset="0.731" stop-color="#00b2d0"/><stop offset="0.769" stop-color="#0490e5"/><stop offset="0.808" stop-color="#0b5ef5"/><stop offset="0.846" stop-color="#0c2efa"/><stop offset="0.885" stop-color="#020af1"/><stop offset="0.923" stop-color="#1500cc"/><stop offset="0.962" stop-color="#2f00a2"/><stop offset="1.000" stop-color="#46008d"/></linearGradient>
<linearGradient id="s6" x1="0" y1="0" x2="0" y2="1"><stop offset="0.000" stop-color="#7b065f"/><stop offset="0.038" stop-color="#720466"/><stop offset="0.077" stop-color="#5d0078"/><stop offset="0.115" stop-color="#47008c"/><stop offset="0.154" stop-color="#2f00a1"/><stop offset="0.192" stop-color="#2300b5"/><stop offset="0.231" stop-color="#1800c6"/><stop offset="0.269" stop-color="#1200d1"/><stop offset="0.308" stop-color="#0c00db"/><stop offset="0.346" stop-color="#0900e0"/><stop offset="0.385" stop-color="#0600e4"/><stop offset="0.423" stop-color="#0600e4"/><stop offset="0.462" stop-color="#0600e4"/><stop offset="0.500" stop-color="#0600e4"/><stop offset="0.538" stop-color="#0700e2"/><stop offset="0.577" stop-color="#0b00dc"/><stop offset="0.615" stop-color="#0f00d6"/><stop offset="0.654" stop-color="#1200d0"/><stop offset="0.692" stop-color="#1600cb"/><stop offset="0.731" stop-color="#1b00c2"/><stop offset="0.769" stop-color="#2100b8"/><stop offset="0.808" stop-color="#2900ab"/><stop offset="0.846" stop-color="#36009b"/><stop offset="0.885" stop-color="#4b0088"/><stop offset="0.923" stop-color="#600076"/><stop offset="0.962" stop-color="#730465"/><stop offset="1.000" stop-color="#7c065f"/></linearGradient>
<linearGradient id="s7" x1="0" y1="0" x2="0" y2="1"><stop offset="0.000" stop-color="#7d075d"/><stop offset="0.038" stop-color="#760563"/><stop offset="0.077" stop-color="#630073"/><stop offset="0.115" stop-color="#4f0084"/><stop offset="0.154" stop-color="#3a0098"/><stop offset="0.192" stop-color="#2900ac"/><stop offset="0.231" stop-color="#1f00bc"/><stop offset="0.269" stop-color="#1900c5"/><stop offset="0.308" stop-color="#1400ce"/><stop offset="0.346" stop-color="#1100d2"/><stop offset="0.385" stop-color="#0e00d7"/><stop offset="0.423" stop-color="#0e00d7"/><stop offset="0.462" stop-color="#0e00d7"/><stop offset="0.500" stop-color="#0e00d7"/><stop offset="0.538" stop-color="#0e00d7"/><stop offset="0.577" stop-color="#1100d2"/><stop offset="0.615" stop-color="#1400cd"/><stop offset="0.654" stop-color="#1700c9"/><stop offset="0.692" stop-color="#1a00c4"/><stop offset="0.731" stop-color="#1f00bc"/><stop offset="0.769" stop-color="#2500b2"/><stop offset="0.808" stop-color="#2d00a5"/><stop offset="0.846" stop-color="#3c0095"/><stop offset="0.885" stop-color="#4f0084"/><stop offset="0.923" stop-color="#630073"/><stop offset="0.962" stop-color="#760563"/><stop offset="1.000" stop-color="#7d075d"/></linearGradient>
<linearGradient id="s8" x1="0" y1="0" x2="0" y2="1"><stop offset="0.000" stop-color="#880a55"/><stop offset="0.038" stop-color="#850957"/><stop offset="0.077" stop-color="#7d075d"/><stop offset="0.115" stop-color="#740464"/><stop offset="0.154" stop-color="#6a016d"/><stop offset="0.192" stop-color="#600076"/><stop offset="0.231" stop-color="#57007d"/><stop offset="0.269" stop-color="#520081"/><stop offset="0.308" stop-color="#4e0085"/><stop offset="0.346" stop-color="#4c0088"/><stop offset="0.385" stop-color="#490089"/><stop offset="0.423" stop-color="#490089"/><stop offset="0.462" stop-color="#490089"/><stop offset="0.500" stop-color="#490089"/><stop offset="0.538" stop-color="#490089"/><stop offset="0.577" stop-color="#4c0087"/><stop offset="0.615" stop-color="#4e0085"/><stop offset="0.654" stop-color="#510083"/><stop offset="0.692" stop-color="#530081"/><stop offset="0.731" stop-color="#57007d"/><stop offset="0.769" stop-color="#5c0079"/><stop offset="0.808" stop-color="#630073"/><stop offset="0.846" stop-color="#6b026c"/><stop offset="0.885" stop-color="#740464"/><stop offset="0.923" stop-color="#7d075d"/><stop offset="0.962" stop-color="#850957"/><stop offset="1.000" stop-color="#880a55"/></linearGradient>
<linearGradient id="s9" x1="0" y1="0" x2="0" y2="1"><stop offset="0.000" stop-color="#8e0c50"/><stop offset="0.038" stop-color="#8e0c50"/><stop offset="0.077" stop-color="#8e0c50"/><stop offset="0.115" stop-color="#8e0c50"/><stop offset="0.154" stop-color="#8e0c50"/><stop offset="0.192" stop-color="#8e0c50"/><stop offset="0.231" stop-color="#8e0c50"/><stop offset="0.269" stop-color="#8e0c50"/><stop offset="0.308" stop-color="#8e0c50"/><stop offset="0.346" stop-color="#8d0c51"/><stop offset="0.385" stop-color="#860a56"/><stop offset="0.423" stop-color="#7f075c"/><stop offset="0.462" stop-color="#780562"/><stop offset="0.500" stop-color="#710367"/><stop offset="0.538" stop-color="#6a016d"/><stop offset="0.577" stop-color="#640072"/><stop offset="0.615" stop-color="#630072"/><stop offset="0.654" stop-color="#630072"/><stop offset="0.692" stop-color="#630072"/><stop offset="0.731" stop-color="#630072"/><stop offset="0.769" stop-color="#630072"/><stop offset="0.808" stop-color="#68006f"/><stop offset="0.846" stop-color="#6f0369"/><stop offset="0.885" stop-color="#760564"/><stop offset="0.923" stop-color="#7c075e"/><stop offset="0.962" stop-color="#830958"/><stop offset="1.000" stop-color="#870a56"/></linearGradient>
<linearGradient id="s10" x1="0" y1="0" x2="0" y2="1"><stop offset="0.000" stop-color="#8e0c50"/><stop offset="0.038" stop-color="#8e0c50"/><stop offset="0.077" stop-color="#8e0c50"/><stop offset="0.115" stop-color="#8e0c50"/><stop offset="0.154" stop-color="#8e0c50"/><stop offset="0.192" stop-color="#8e0c50"/><stop offset="0.231" stop-color="#8e0c50"/><stop offset="0.269" stop-color="#8e0c50"/><stop offset="0.308" stop-color="#8e0c50"/><stop offset="0.346" stop-color="#8d0c51"/><stop offset="0.385" stop-color="#850957"/><stop offset="0.423" stop-color="#7d075e"/><stop offset="0.462" stop-color="#750464"/><stop offset="0.500" stop-color="#6d026b"/><stop offset="0.538" stop-color="#650071"/><stop offset="0.577" stop-color="#5e0077"/><stop offset="0.615" stop-color="#5e0077"/><stop offset="0.654" stop-color="#5e0077"/><stop offset="0.692" stop-color="#5e0077"/><stop offset="0.731" stop-color="#5e0077"/><stop offset="0.769" stop-color="#5e0077"/><stop offset="0.808" stop-color="#630073"/><stop offset="0.846" stop-color="#6a016d"/><stop offset="0.885" stop-color="#720467"/><stop offset="0.923" stop-color="#7a0660"/><stop offset="0.962" stop-color="#82085a"/><stop offset="1.000" stop-color="#860a57"/></linearGradient>
<linearGradient id="s11" x1="0" y1="0" x2="0" y2="1"><stop offset="0.000" stop-color="#7d075e"/><stop offset="0.038" stop-color="#7b065f"/><stop offset="0.077" stop-color="#780562"/><stop offset="0.115" stop-color="#750464"/><stop offset="0.154" stop-color="#710367"/><stop offset="0.192" stop-color="#6d026a"/><stop offset="0.231" stop-color="#660070"/><stop offset="0.269" stop-color="#5a007a"/><stop offset="0.308" stop-color="#44008e"/><stop offset="0.346" stop-color="#2c00a7"/><stop offset="0.385" stop-color="#1900c5"/><stop offset="0.423" stop-color="#0500e6"/><stop offset="0.462" stop-color="#0412f3"/><stop offset="0.500" stop-color="#0a29f9"/><stop offset="0.538" stop-color="#0d33fb"/><stop offset="0.577" stop-color="#0d32fb"/><stop offset="0.615" stop-color="#0b2dfa"/><stop offset="0.654" stop-color="#0b2af9"/><stop offset="0.692" stop-color="#0a28f9"/><stop offset="0.731" stop-color="#0925f8"/><stop offset="0.769" stop-color="#0821f7"/><stop offset="0.808" stop-color="#0512f3"/><stop offset="0.846" stop-color="#0001ee"/><stop offset="0.885" stop-color="#1200d0"/><stop offset="0.923" stop-color="#2a00aa"/><stop offset="0.962" stop-color="#500084"/><stop offset="1.000" stop-color="#610074"/></linearGradient>
<linearGradient id="s12" x1="0" y1="0" x2="0" y2="1"><stop offset="0.000" stop-color="#650071"/><stop offset="0.038" stop-color="#620074"/><stop offset="0.077" stop-color="#5b007a"/><stop offset="0.115" stop-color="#550080"/><stop offset="0.154" stop-color="#4e0085"/><stop offset="0.192" stop-color="#45008d"/><stop offset="0.231" stop-color="#37009a"/><stop offset="0.269" stop-color="#2700af"/><stop offset="0.308" stop-color="#0f00d6"/><stop offset="0.346" stop-color="#0412f3"/><stop offset="0.385" stop-color="#103fff"/><stop offset="0.423" stop-color="#01a5df"/><stop offset="0.462" stop-color="#08e077"/><stop offset="0.500" stop-color="#60ee15"/><stop offset="0.538" stop-color="#8bee09"/><stop offset="0.577" stop-color="#7fee0c"/><stop offset="0.615" stop-color="#63ee14"/><stop offset="0.654" stop-color="#53ee19"/><stop offset="0.692" stop-color="#45ee1d"/><stop offset="0.731" stop-color="#36ee21"/><stop offset="0.769" stop-color="#26ea3d"/><stop offset="0.808" stop-color="#00d98f"/><stop offset="0.846" stop-color="#00abdc"/><stop offset="0.885" stop-color="#0e4efa"/><stop offset="0.923" stop-color="#030cf1"/><stop offset="0.962" stop-color="#2200b7"/><stop offset="1.000" stop-color="#35009b"/></linearGradient>
<linearGradient id="s13" x1="0" y1="0" x2="0" y2="1"><stop offset="0.000" stop-color="#630073"/><stop offset="0.038" stop-color="#5e0077"/><stop offset="0.077" stop-color="#55007f"/><stop offset="0.115" stop-color="#4b0088"/><stop offset="0.154" stop-color="#410091"/><stop offset="0.192" stop-color="#36009b"/><stop offset="0.231" stop-color="#2c00a7"/><stop offset="0.269" stop-color="#2000ba"/><stop offset="0.308" stop-color="#0900e0"/><stop offset="0.346" stop-color="#0617f4"/><stop offset="0.385" stop-color="#0f47fd"/><stop offset="0.423" stop-color="#00aadd"/><stop offset="0.462" stop-color="#0ae075"/><stop offset="0.500" stop-color="#60ee15"/><stop offset="0.538" stop-color="#89ee09"/><stop offset="0.577" stop-color="#7cee0d"/><stop offset="0.615" stop-color="#5dee16"/><stop offset="0.654" stop-color="#4cee1b"/><stop offset="0.692" stop-color="#3cee1f"/><stop offset="0.731" stop-color="#2eec2c"/><stop offset="0.769" stop-color="#1de74e"/><stop offset="0.808" stop-color="#00d19c"/><stop offset="0.846" stop-color="#01a0e0"/><stop offset="0.885" stop-color="#0f46fd"/><stop offset="0.923" stop-color="#020af1"/><stop offset="0.962" stop-color="#2300b5"/><stop offset="1.000" stop-color="#37009a"/></linearGradient>
<linearGradient id="s14" x1="0" y1="0" x2="0" y2="1"><stop offset="0.000" stop-color="#35009c"/><stop offset="0.038" stop-color="#2300b6"/><stop offset="0.077" stop-color="#0000ed"/><stop offset="0.115" stop-color="#0b2dfa"/><stop offset="0.154" stop-color="#0971ef"/><stop offset="0.192" stop-color="#01a5df"/><stop offset="0.231" stop-color="#00b7c7"/><stop offset="0.269" stop-color="#00bfb9"/><stop offset="0.308" stop-color="#00c6ae"/><stop offset="0.346" stop-color="#00d09e"/><stop offset="0.385" stop-color="#05df7f"/><stop offset="0.423" stop-color="#14e460"/><stop offset="0.462" stop-color="#2beb33"/><stop offset="0.500" stop-color="#60ee15"/><stop offset="0.538" stop-color="#69ee13"/><stop offset="0.577" stop-color="#3bee20"/><stop offset="0.615" stop-color="#00dd89"/><stop offset="0.654" stop-color="#00c5b0"/><stop offset="0.692" stop-color="#029de1"/><stop offset="0.731" stop-color="#0d56f8"/><stop offset="0.769" stop-color="#0a29f9"/><stop offset="0.808" stop-color="#030cf1"/><stop offset="0.846" stop-color="#0900e0"/><stop offset="0.885" stop-color="#1900c5"/><stop offset="0.923" stop-color="#2c00a7"/><stop offset="0.962" stop-color="#48008a"/><stop offset="1.000" stop-color="#55007f"/></linearGradient>
<linearGradient id="s15" x1="0" y1="0" x2="0" y2="1"><stop offset="0.000" stop-color="#2c00a6"/><stop offset="0.038" stop-color="#1900c5"/><stop offset="0.077" stop-color="#0514f3"/><stop offset="0.115" stop-color="#0c58f7"/><stop offset="0.154" stop-color="#00bbc1"/><stop offset="0.192" stop-color="#05df7e"/><stop offset="0.231" stop-color="#1ae654"/><stop offset="0.269" stop-color="#21e846"/><stop offset="0.308" stop-color="#21e846"/><stop offset="0.346" stop-color="#22e844"/><stop offset="0.385" stop-color="#2aeb34"/><stop offset="0.423" stop-color="#2beb33"/><stop offset="0.462" stop-color="#35ee22"/><stop offset="0.500" stop-color="#60ee15"/><stop offset="0.538" stop-color="#60ee15"/><stop offset="0.577" stop-color="#2dec2f"/><stop offset="0.615" stop-color="#00c9a9"/><stop offset="0.654" stop-color="#00aed7"/><stop offset="0.692" stop-color="#0a6af2"/><stop offset="0.731" stop-color="#0a29f9"/><stop offset="0.769" stop-color="#0001ee"/><stop offset="0.808" stop-color="#1900c5"/><stop offset="0.846" stop-color="#2800ad"/><stop offset="0.885" stop-color="#34009c"/><stop offset="0.923" stop-color="#48008b"/><stop offset="0.962" stop-color="#58007d"/><stop offset="1.000" stop-color="#5e0077"/></linearGradient>
<linearGradient id="s16" x1="0" y1="0" x2="0" y2="1"><stop offset="0.000" stop-color="#410091"/><stop offset="0.038" stop-color="#2900ac"/><stop offset="0.077" stop-color="#0900e0"/><stop offset="0.115" stop-color="#0821f7"/><stop offset="0.154" stop-color="#0d55f8"/><stop offset="0.192" stop-color="#0588e8"/><stop offset="0.231" stop-color="#01a2e0"/><stop offset="0.269" stop-color="#00abdb"/><stop offset="0.308" stop-color="#00add7"/><stop offset="0.346" stop-color="#00aed6"/><stop offset="0.385" stop-color="#00b3ce"/><stop offset="0.423" stop-color="#00b3ce"/><stop offset="0.462" stop-color="#00b9c4"/><stop offset="0.500" stop-color="#00c9aa"/><stop offset="0.538" stop-color="#00c9aa"/><stop offset="0.577" stop-color="#00b3cd"/><stop offset="0.615" stop-color="#0872ef"/><stop offset="0.654" stop-color="#0e4ffa"/><stop offset="0.692" stop-color="#0b2dfa"/><stop offset="0.731" stop-color="#030df1"/><stop offset="0.769" stop-color="#0f00d5"/><stop offset="0.808" stop-color="#2300b5"/><stop offset="0.846" stop-color="#2f00a1"/><stop offset="0.885" stop-color="#420090"/><stop offset="0.923" stop-color="#530081"/><stop offset="0.962" stop-color="#610074"/><stop offset="1.000" stop-color="#660070"/></linearGradient>
<linearGradient id="s17" x1="0" y1="0" x2="0" y2="1"><stop offset="0.000" stop-color="#7d075e"/><stop offset="0.038" stop-color="#710367"/><stop offset="0.077" stop-color="#5b007a"/><stop offset="0.115" stop-color="#45008e"/><stop offset="0.154" stop-color="#2e00a4"/><stop offset="0.192" stop-color="#2400b4"/><stop offset="0.231" stop-color="#1e00bd"/><stop offset="0.269" stop-color="#1800c7"/><stop offset="0.308" stop-color="#1400ce"/><stop offset="0.346" stop-color="#1400ce"/><stop offset="0.385" stop-color="#1400ce"/><stop offset="0.423" stop-color="#1400ce"/><stop offset="0.462" stop-color="#1400ce"/><stop offset="0.500" stop-color="#1300ce"/><stop offset="0.538" stop-color="#1300ce"/><stop offset="0.577" stop-color="#1600ca"/><stop offset="0.615" stop-color="#1c00c0"/><stop offset="0.654" stop-color="#2200b7"/><stop offset="0.692" stop-color="#2800ad"/><stop offset="0.731" stop-color="#2e00a4"/><stop offset="0.769" stop-color="#380099"/><stop offset="0.808" stop-color="#45008d"/><stop offset="0.846" stop-color="#520082"/><stop offset="0.885" stop-color="#5f0076"/><stop offset="0.923" stop-color="#6e026a"/><stop offset="0.962" stop-color="#790661"/><stop offset="1.000" stop-color="#7d075d"/></linearGradient>
<linearGradient id="s18" x1="0" y1="0" x2="0" y2="1"><stop offset="0.000" stop-color="#7d075e"/><stop offset="0.038" stop-color="#720367"/><stop offset="0.077" stop-color="#5c0079"/><stop offset="0.115" stop-color="#46008c"/><stop offset="0.154" stop-color="#2e00a3"/><stop offset="0.192" stop-color="#2500b3"/><stop offset="0.231" stop-color="#1f00bc"/><stop offset="0.269" stop-color="#1900c5"/><stop offset="0.308" stop-color="#1400cd"/><stop offset="0.346" stop-color="#1400cd"/><stop offset="0.385" stop-color="#1400cd"/><stop offset="0.423" stop-color="#1400cd"/><stop offset="0.462" stop-color="#1400cd"/><stop offset="0.500" stop-color="#1400cd"/><stop offset="0.538" stop-color="#1400cd"/><stop offset="0.577" stop-color="#1700c9"/><stop offset="0.615" stop-color="#1c00c0"/><stop offset="0.654" stop-color="#2200b7"/><stop offset="0.692" stop-color="#2800ad"/><stop offset="0.731" stop-color="#2e00a4"/><stop offset="0.769" stop-color="#370099"/><stop offset="0.808" stop-color="#45008e"/><stop offset="0.846" stop-color="#520082"/><stop offset="0.885" stop-color="#5f0076"/><stop offset="0.923" stop-color="#6e026a"/><stop offset="0.962" stop-color="#790661"/><stop offset="1.000" stop-color="#7d075e"/></linearGradient>
<linearGradient id="s19" x1="0" y1="0" x2="0" y2="1"><stop offset="0.000" stop-color="#5d0078"/><stop offset="0.038" stop-color="#58007d"/><stop offset="0.077" stop-color="#4d0086"/><stop offset="0.115" stop-color="#400092"/><stop offset="0.154" stop-color="#3000a1"/><stop offset="0.192" stop-color="#2900ac"/><stop offset="0.231" stop-color="#2300b5"/><stop offset="0.269" stop-color="#1c00c0"/><stop offset="0.308" stop-color="#1300cf"/><stop offset="0.346" stop-color="#0b00db"/><stop offset="0.385" stop-color="#0800e1"/><stop offset="0.423" stop-color="#0800e2"/><stop offset="0.462" stop-color="#0400e8"/><stop offset="0.500" stop-color="#0400e8"/><stop offset="0.538" stop-color="#0105ef"/><stop offset="0.577" stop-color="#0411f2"/><stop offset="0.615" stop-color="#0618f4"/><stop offset="0.654" stop-color="#071bf5"/><stop offset="0.692" stop-color="#071ef6"/><stop offset="0.731" stop-color="#071cf6"/><stop offset="0.769" stop-color="#0617f4"/><stop offset="0.808" stop-color="#030df2"/><stop offset="0.846" stop-color="#0000ed"/><stop offset="0.885" stop-color="#1d00be"/><stop offset="0.923" stop-color="#35009b"/><stop offset="0.962" stop-color="#4a0089"/><stop offset="1.000" stop-color="#540080"/></linearGradient>
<linearGradient id="s20" x1="0" y1="0" x2="0" y2="1"><stop offset="0.000" stop-color="#500083"/><stop offset="0.038" stop-color="#4d0086"/><stop offset="0.077" stop-color="#47008c"/><stop offset="0.115" stop-color="#3e0094"/><stop offset="0.154" stop-color="#31009f"/><stop offset="0.192" stop-color="#2b00a9"/><stop offset="0.231" stop-color="#2500b2"/><stop offset="0.269" stop-color="#1e00be"/><stop offset="0.308" stop-color="#1200d1"/><stop offset="0.346" stop-color="#0700e2"/><stop offset="0.385" stop-color="#0200ea"/><stop offset="0.423" stop-color="#0200eb"/><stop offset="0.462" stop-color="#0104ef"/><stop offset="0.500" stop-color="#0104ef"/><stop offset="0.538" stop-color="#0411f2"/><stop offset="0.577" stop-color="#0924f8"/><stop offset="0.615" stop-color="#0c31fb"/><stop offset="0.654" stop-color="#0e38fd"/><stop offset="0.692" stop-color="#103fff"/><stop offset="0.731" stop-color="#1040ff"/><stop offset="0.769" stop-color="#0f3bfe"/><stop offset="0.808" stop-color="#0c30fb"/><stop offset="0.846" stop-color="#081ff6"/><stop offset="0.885" stop-color="#0c00db"/><stop offset="0.923" stop-color="#2700ae"/><stop offset="0.962" stop-color="#36009a"/><stop offset="1.000" stop-color="#43008f"/></linearGradient>
<linearGradient id="s21" x1="0" y1="0" x2="0" y2="1"><stop offset="0.000" stop-color="#48008b"/><stop offset="0.038" stop-color="#390098"/><stop offset="0.077" stop-color="#2500b2"/><stop offset="0.115" stop-color="#1300cf"/><stop offset="0.154" stop-color="#0500e7"/><stop offset="0.192" stop-color="#0001ee"/><stop offset="0.231" stop-color="#0207f0"/><stop offset="0.269" stop-color="#030ef2"/><stop offset="0.308" stop-color="#0619f5"/><stop offset="0.346" stop-color="#0922f7"/><stop offset="0.385" stop-color="#0a27f8"/><stop offset="0.423" stop-color="#0926f8"/><stop offset="0.462" stop-color="#0a29f9"/><stop offset="0.500" stop-color="#0a28f9"/><stop offset="0.538" stop-color="#0b2bf9"/><stop offset="0.577" stop-color="#0e38fd"/><stop offset="0.615" stop-color="#1043fe"/><stop offset="0.654" stop-color="#0f46fd"/><stop offset="0.692" stop-color="#0e4dfb"/><stop offset="0.731" stop-color="#0f4afc"/><stop offset="0.769" stop-color="#0f3afd"/><stop offset="0.808" stop-color="#0b2cfa"/><stop offset="0.846" stop-color="#071bf5"/><stop offset="0.885" stop-color="#0d00d9"/><stop offset="0.923" stop-color="#2800ad"/><stop offset="0.962" stop-color="#390098"/><stop offset="1.000" stop-color="#46008d"/></linearGradient>
<linearGradient id="s22" x1="0" y1="0" x2="0" y2="1"><stop offset="0.000" stop-color="#2d00a5"/><stop offset="0.038" stop-color="#1500cc"/><stop offset="0.077" stop-color="#0a29f9"/><stop offset="0.115" stop-color="#01a6de"/><stop offset="0.154" stop-color="#07df79"/><stop offset="0.192" stop-color="#10e268"/><stop offset="0.231" stop-color="#17e55b"/><stop offset="0.269" stop-color="#19e556"/><stop offset="0.308" stop-color="#20e847"/><stop offset="0.346" stop-color="#21e846"/><stop offset="0.385" stop-color="#20e848"/><stop offset="0.423" stop-color="#18e559"/><stop offset="0.462" stop-color="#0fe269"/><stop offset="0.500" stop-color="#07df7a"/><stop offset="0.538" stop-color="#00bfbb"/><stop offset="0.577" stop-color="#00b7c8"/><stop offset="0.615" stop-color="#00b0d3"/><stop offset="0.654" stop-color="#0492e5"/><stop offset="0.692" stop-color="#0682ea"/><stop offset="0.731" stop-color="#096cf1"/><stop offset="0.769" stop-color="#0e37fd"/><stop offset="0.808" stop-color="#081ff6"/><stop offset="0.846" stop-color="#030cf1"/><stop offset="0.885" stop-color="#1200d0"/><stop offset="0.923" stop-color="#2900ab"/><stop offset="0.962" stop-color="#400091"/><stop offset="1.000" stop-color="#500084"/></linearGradient>
<linearGradient id="s23" x1="0" y1="0" x2="0" y2="1"><stop offset="0.000" stop-color="#2c00a6"/><stop offset="0.038" stop-color="#1300ce"/><stop offset="0.077" stop-color="#0b2dfa"/><stop offset="0.115" stop-color="#00afd5"/><stop offset="0.154" stop-color="#12e365"/><stop offset="0.192" stop-color="#1ae653"/><stop offset="0.231" stop-color="#21e846"/><stop offset="0.269" stop-color="#23e942"/><stop offset="0.308" stop-color="#2aeb34"/><stop offset="0.346" stop-color="#2aeb34"/><stop offset="0.385" stop-color="#29eb36"/><stop offset="0.423" stop-color="#20e848"/><stop offset="0.462" stop-color="#17e559"/><stop offset="0.500" stop-color="#0fe26b"/><stop offset="0.538" stop-color="#00c3b3"/><stop offset="0.577" stop-color="#00bbc1"/><stop offset="0.615" stop-color="#00b3ce"/><stop offset="0.654" stop-color="#0396e4"/><stop offset="0.692" stop-color="#0685e9"/><stop offset="0.731" stop-color="#096ef0"/><stop offset="0.769" stop-color="#0e37fd"/><stop offset="0.808" stop-color="#081ef6"/><stop offset="0.846" stop-color="#030bf1"/><stop offset="0.885" stop-color="#1300d0"/><stop offset="0.923" stop-color="#2900ab"/><stop offset="0.962" stop-color="#410091"/><stop offset="1.000" stop-color="#500083"/></linearGradient>
<linearGradient id="s24" x1="0" y1="0" x2="0" y2="1"><stop offset="0.000" stop-color="#58007d"/><stop offset="0.038" stop-color="#3d0095"/><stop offset="0.077" stop-color="#1900c5"/><stop offset="0.115" stop-color="#0209f1"/><stop offset="0.154" stop-color="#0925f8"/><stop offset="0.192" stop-color="#0c2ffa"/><stop offset="0.231" stop-color="#0d35fc"/><stop offset="0.269" stop-color="#0e38fd"/><stop offset="0.308" stop-color="#0f3cfe"/><stop offset="0.346" stop-color="#0f3dfe"/><stop offset="0.385" stop-color="#0f3dfe"/><stop offset="0.423" stop-color="#0f3afd"/><stop offset="0.462" stop-color="#0e38fd"/><stop offset="0.500" stop-color="#0d35fc"/><stop offset="0.538" stop-color="#0926f8"/><stop offset="0.577" stop-color="#0821f7"/><stop offset="0.615" stop-color="#071cf6"/><stop offset="0.654" stop-color="#0513f3"/><stop offset="0.692" stop-color="#030cf1"/><stop offset="0.731" stop-color="#0105ef"/><stop offset="0.769" stop-color="#0a00dd"/><stop offset="0.808" stop-color="#1700c9"/><stop offset="0.846" stop-color="#2100b8"/><stop offset="0.885" stop-color="#31009f"/><stop offset="0.923" stop-color="#4d0086"/><stop offset="0.962" stop-color="#600075"/><stop offset="1.000" stop-color="#69016e"/></linearGradient>
<linearGradient id="s25" x1="0" y1="0" x2="0" y2="1"><stop offset="0.000" stop-color="#7d075d"/><stop offset="0.038" stop-color="#760563"/><stop offset="0.077" stop-color="#630073"/><stop offset="0.115" stop-color="#4f0084"/><stop offset="0.154" stop-color="#3a0098"/><stop offset="0.192" stop-color="#2a00aa"/><stop offset="0.231" stop-color="#2300b6"/><stop offset="0.269" stop-color="#2000ba"/><stop offset="0.308" stop-color="#1d00bf"/><stop offset="0.346" stop-color="#1a00c3"/><stop offset="0.385" stop-color="#1a00c3"/><stop offset="0.423" stop-color="#1a00c3"/><stop offset="0.462" stop-color="#1a00c3"/><stop offset="0.500" stop-color="#1a00c3"/><stop offset="0.538" stop-color="#1d00be"/><stop offset="0.577" stop-color="#2000ba"/><stop offset="0.615" stop-color="#2300b5"/><stop offset="0.654" stop-color="#2600b0"/><stop offset="0.692" stop-color="#2b00a8"/><stop offset="0.731" stop-color="#2f00a2"/><stop offset="0.769" stop-color="#390098"/><stop offset="0.808" stop-color="#45008d"/><stop offset="0.846" stop-color="#520081"/><stop offset="0.885" stop-color="#5f0076"/><stop offset="0.923" stop-color="#6e026a"/><stop offset="0.962" stop-color="#790660"/><stop offset="1.000" stop-color="#7d075d"/></linearGradient>
<linearGradient id="s26" x1="0" y1="0" x2="0" y2="1"><stop offset="0.000" stop-color="#80085c"/><stop offset="0.038" stop-color="#790661"/><stop offset="0.077" stop-color="#68016e"/><stop offset="0.115" stop-color="#57007e"/><stop offset="0.154" stop-color="#44008e"/><stop offset="0.192" stop-color="#3000a1"/><stop offset="0.231" stop-color="#2900ab"/><stop offset="0.269" stop-color="#2700af"/><stop offset="0.308" stop-color="#2400b3"/><stop offset="0.346" stop-color="#2200b6"/><stop offset="0.385" stop-color="#2200b6"/><stop offset="0.423" stop-color="#2200b6"/><stop offset="0.462" stop-color="#2200b6"/><stop offset="0.500" stop-color="#2200b6"/><stop offset="0.538" stop-color="#2500b2"/><stop offset="0.577" stop-color="#2700ae"/><stop offset="0.615" stop-color="#2a00aa"/><stop offset="0.654" stop-color="#2c00a6"/><stop offset="0.692" stop-color="#32009e"/><stop offset="0.731" stop-color="#390098"/><stop offset="0.769" stop-color="#43008f"/><stop offset="0.808" stop-color="#4e0085"/><stop offset="0.846" stop-color="#59007b"/><stop offset="0.885" stop-color="#650071"/><stop offset="0.923" stop-color="#720466"/><stop offset="0.962" stop-color="#7c075e"/><stop offset="1.000" stop-color="#80085c"/></linearGradient>
<linearGradient id="s27" x1="0" y1="0" x2="0" y2="1"><stop offset="0.000" stop-color="#7b065f"/><stop offset="0.038" stop-color="#720466"/><stop offset="0.077" stop-color="#5f0076"/><stop offset="0.115" stop-color="#4c0087"/><stop offset="0.154" stop-color="#3a0097"/><stop offset="0.192" stop-color="#2e00a3"/><stop offset="0.231" stop-color="#2800ad"/><stop offset="0.269" stop-color="#2400b4"/><stop offset="0.308" stop-color="#2000ba"/><stop offset="0.346" stop-color="#1e00be"/><stop offset="0.385" stop-color="#1b00c2"/><stop offset="0.423" stop-color="#1900c5"/><stop offset="0.462" stop-color="#1900c5"/><stop offset="0.500" stop-color="#1900c5"/><stop offset="0.538" stop-color="#1900c5"/><stop offset="0.577" stop-color="#1900c5"/><stop offset="0.615" stop-color="#1900c5"/><stop offset="0.654" stop-color="#1900c5"/><stop offset="0.692" stop-color="#1b00c2"/><stop offset="0.731" stop-color="#1f00bb"/><stop offset="0.769" stop-color="#2500b2"/><stop offset="0.808" stop-color="#2d00a5"/><stop offset="0.846" stop-color="#3d0094"/><stop offset="0.885" stop-color="#510083"/><stop offset="0.923" stop-color="#610074"/><stop offset="0.962" stop-color="#720466"/><stop offset="1.000" stop-color="#7b065f"/></linearGradient>
<linearGradient id="s28" x1="0" y1="0" x2="0" y2="1"><stop offset="0.000" stop-color="#5e0077"/><stop offset="0.038" stop-color="#4b0088"/><stop offset="0.077" stop-color="#2800ad"/><stop offset="0.115" stop-color="#1100d2"/><stop offset="0.154" stop-color="#0104ef"/><stop offset="0.192" stop-color="#0617f4"/><stop offset="0.231" stop-color="#0a29f9"/><stop offset="0.269" stop-color="#0d36fc"/><stop offset="0.308" stop-color="#1043fe"/><stop offset="0.346" stop-color="#0e4ffa"/><stop offset="0.385" stop-color="#0c5cf6"/><stop offset="0.423" stop-color="#0a68f2"/><stop offset="0.462" stop-color="#0a68f2"/><stop offset="0.500" stop-color="#0a68f2"/><stop offset="0.538" stop-color="#0a68f2"/><stop offset="0.577" stop-color="#0a68f2"/><stop offset="0.615" stop-color="#0a68f2"/><stop offset="0.654" stop-color="#0a68f2"/><stop offset="0.692" stop-color="#0c5df6"/><stop offset="0.731" stop-color="#0f46fd"/><stop offset="0.769" stop-color="#0c31fb"/><stop offset="0.808" stop-color="#061af5"/><stop offset="0.846" stop-color="#0000ee"/><stop offset="0.885" stop-color="#1700c8"/><stop offset="0.923" stop-color="#2b00a8"/><stop offset="0.962" stop-color="#4b0088"/><stop offset="1.000" stop-color="#5e0077"/></linearGradient>
<linearGradient id="s29" x1="0" y1="0" x2="0" y2="1"><stop offset="0.000" stop-color="#5d0078"/><stop offset="0.038" stop-color="#4a0089"/><stop offset="0.077" stop-color="#2700af"/><stop offset="0.115" stop-color="#0f00d5"/><stop offset="0.154" stop-color="#0207f0"/><stop offset="0.192" stop-color="#071bf5"/><stop offset="0.231" stop-color="#0b2dfa"/><stop offset="0.269" stop-color="#0e39fd"/><stop offset="0.308" stop-color="#0f4afc"/><stop offset="0.346" stop-color="#0d56f8"/><stop offset="0.385" stop-color="#0b63f4"/><stop offset="0.423" stop-color="#096ff0"/><stop offset="0.462" stop-color="#096ff0"/><stop offset="0.500" stop-color="#096ff0"/><stop offset="0.538" stop-color="#096ff0"/><stop offset="0.577" stop-color="#096ef0"/><stop offset="0.615" stop-color="#096ef0"/><stop offset="0.654" stop-color="#096ef0"/><stop offset="0.692" stop-color="#0b62f4"/><stop offset="0.731" stop-color="#0e4bfc"/><stop offset="0.769" stop-color="#0d33fc"/><stop offset="0.808" stop-color="#071bf5"/><stop offset="0.846" stop-color="#0001ee"/><stop offset="0.885" stop-color="#1700c9"/><stop offset="0.923" stop-color="#2a00a9"/><stop offset="0.962" stop-color="#4b0088"/><stop offset="1.000" stop-color="#5e0077"/></linearGradient>
<linearGradient id="s30" x1="0" y1="0" x2="0" y2="1"><stop offset="0.000" stop-color="#3f0092"/><stop offset="0.038" stop-color="#2400b3"/><stop offset="0.077" stop-color="#0208f0"/><stop offset="0.115" stop-color="#103fff"/><stop offset="0.154" stop-color="#01a3df"/><stop offset="0.192" stop-color="#00d694"/><stop offset="0.231" stop-color="#1ce650"/><stop offset="0.269" stop-color="#27ea3a"/><stop offset="0.308" stop-color="#31ed25"/><stop offset="0.346" stop-color="#3fee1f"/><stop offset="0.385" stop-color="#4cee1b"/><stop offset="0.423" stop-color="#50ee1a"/><stop offset="0.462" stop-color="#5aee17"/><stop offset="0.500" stop-color="#5aee17"/><stop offset="0.538" stop-color="#4fee1a"/><stop offset="0.577" stop-color="#45ee1d"/><stop offset="0.615" stop-color="#3aee20"/><stop offset="0.654" stop-color="#2beb33"/><stop offset="0.692" stop-color="#11e367"/><stop offset="0.731" stop-color="#00d19c"/><stop offset="0.769" stop-color="#01a6de"/><stop offset="0.808" stop-color="#0d57f8"/><stop offset="0.846" stop-color="#0923f7"/><stop offset="0.885" stop-color="#0200eb"/><stop offset="0.923" stop-color="#1e00bd"/><stop offset="0.962" stop-color="#3c0095"/><stop offset="1.000" stop-color="#540080"/></linearGradient>
<linearGradient id="s31" x1="0" y1="0" x2="0" y2="1"><stop offset="0.000" stop-color="#35009b"/><stop offset="0.038" stop-color="#1c00c0"/><stop offset="0.077" stop-color="#061af5"/><stop offset="0.115" stop-color="#0873ef"/><stop offset="0.154" stop-color="#00d09e"/><stop offset="0.192" stop-color="#32ee25"/><stop offset="0.231" stop-color="#73ee10"/><stop offset="0.269" stop-color="#81ee0c"/><stop offset="0.308" stop-color="#8fee08"/><stop offset="0.346" stop-color="#9dee04"/><stop offset="0.385" stop-color="#aaee00"/><stop offset="0.423" stop-color="#abee00"/><stop offset="0.462" stop-color="#b5ee00"/><stop offset="0.500" stop-color="#b5ee00"/><stop offset="0.538" stop-color="#aaee00"/><stop offset="0.577" stop-color="#9cee04"/><stop offset="0.615" stop-color="#8eee08"/><stop offset="0.654" stop-color="#73ee10"/><stop offset="0.692" stop-color="#3eee1f"/><stop offset="0.731" stop-color="#17e55a"/><stop offset="0.769" stop-color="#00c1b7"/><stop offset="0.808" stop-color="#0877ed"/><stop offset="0.846" stop-color="#0c2ffa"/><stop offset="0.885" stop-color="#0206f0"/><stop offset="0.923" stop-color="#1a00c4"/><stop offset="0.962" stop-color="#370099"/><stop offset="1.000" stop-color="#500083"/></linearGradient>
<linearGradient id="s32" x1="0" y1="0" x2="0" y2="1"><stop offset="0.000" stop-color="#48008b"/><stop offset="0.038" stop-color="#2a00aa"/><stop offset="0.077" stop-color="#0300e9"/><stop offset="0.115" stop-color="#0b2efa"/><stop offset="0.154" stop-color="#0877ed"/><stop offset="0.192" stop-color="#00b9c5"/><stop offset="0.231" stop-color="#00d694"/><stop offset="0.269" stop-color="#00dd87"/><stop offset="0.308" stop-color="#09e077"/><stop offset="0.346" stop-color="#0fe269"/><stop offset="0.385" stop-color="#17e55a"/><stop offset="0.423" stop-color="#18e559"/><stop offset="0.462" stop-color="#1ee74d"/><stop offset="0.500" stop-color="#1ee74d"/><stop offset="0.538" stop-color="#17e559"/><stop offset="0.577" stop-color="#11e366"/><stop offset="0.615" stop-color="#0be173"/><stop offset="0.654" stop-color="#00dc8a"/><stop offset="0.692" stop-color="#00c6af"/><stop offset="0.731" stop-color="#00add7"/><stop offset="0.769" stop-color="#0872ef"/><stop offset="0.808" stop-color="#0d36fc"/><stop offset="0.846" stop-color="#0412f3"/><stop offset="0.885" stop-color="#0d00d9"/><stop offset="0.923" stop-color="#2600b0"/><stop offset="0.962" stop-color="#48008b"/><stop offset="1.000" stop-color="#5c0079"/></linearGradient>
<linearGradient id="s33" x1="0" y1="0" x2="0" y2="1"><stop offset="0.000" stop-color="#7c075e"/><stop offset="0.038" stop-color="#740465"/><stop offset="0.077" stop-color="#610075"/><stop offset="0.115" stop-color="#4c0087"/><stop offset="0.154" stop-color="#35009c"/><stop offset="0.192" stop-color="#2600b0"/><stop offset="0.231" stop-color="#1c00c0"/><stop offset="0.269" stop-color="#1600ca"/><stop offset="0.308" stop-color="#1200d1"/><stop offset="0.346" stop-color="#1100d3"/><stop offset="0.385" stop-color="#0c00db"/><stop offset="0.423" stop-color="#0c00db"/><stop offset="0.462" stop-color="#0c00db"/><stop offset="0.500" stop-color="#0c00db"/><stop offset="0.538" stop-color="#0c00db"/><stop offset="0.577" stop-color="#0c00db"/><stop offset="0.615" stop-color="#0c00db"/><stop offset="0.654" stop-color="#0c00db"/><stop offset="0.692" stop-color="#1100d2"/><stop offset="0.731" stop-color="#1700c9"/><stop offset="0.769" stop-color="#1d00bf"/><stop offset="0.808" stop-color="#2700ae"/><stop offset="0.846" stop-color="#37009a"/><stop offset="0.885" stop-color="#4e0086"/><stop offset="0.923" stop-color="#620074"/><stop offset="0.962" stop-color="#750464"/><stop offset="1.000" stop-color="#7d075e"/></linearGradient>
<linearGradient id="s34" x1="0" y1="0" x2="0" y2="1"><stop offset="0.000" stop-color="#7d075d"/><stop offset="0.038" stop-color="#760563"/><stop offset="0.077" stop-color="#630073"/><stop offset="0.115" stop-color="#4f0084"/><stop offset="0.154" stop-color="#3a0097"/><stop offset="0.192" stop-color="#2900ac"/><stop offset="0.231" stop-color="#1f00bc"/><stop offset="0.269" stop-color="#1900c5"/><stop offset="0.308" stop-color="#1400cd"/><stop offset="0.346" stop-color="#1400ce"/><stop offset="0.385" stop-color="#0e00d7"/><stop offset="0.423" stop-color="#0e00d7"/><stop offset="0.462" stop-color="#0e00d7"/><stop offset="0.500" stop-color="#0e00d7"/><stop offset="0.538" stop-color="#0e00d7"/><stop offset="0.577" stop-color="#0e00d7"/><stop offset="0.615" stop-color="#0e00d7"/><stop offset="0.654" stop-color="#0e00d7"/><stop offset="0.692" stop-color="#1300cf"/><stop offset="0.731" stop-color="#1900c5"/><stop offset="0.769" stop-color="#1f00bc"/><stop offset="0.808" stop-color="#2900ac"/><stop offset="0.846" stop-color="#3a0097"/><stop offset="0.885" stop-color="#4f0084"/><stop offset="0.923" stop-color="#630073"/><stop offset="0.962" stop-color="#760563"/><stop offset="1.000" stop-color="#7d075d"/></linearGradient>
<linearGradient id="s35" x1="0" y1="0" x2="0" y2="1"><stop offset="0.000" stop-color="#880a55"/><stop offset="0.038" stop-color="#860957"/><stop offset="0.077" stop-color="#7f075c"/><stop offset="0.115" stop-color="#770563"/><stop offset="0.154" stop-color="#6d026a"/><stop offset="0.192" stop-color="#630073"/><stop offset="0.231" stop-color="#5c0079"/><stop offset="0.269" stop-color="#57007d"/><stop offset="0.308" stop-color="#540080"/><stop offset="0.346" stop-color="#530081"/><stop offset="0.385" stop-color="#4f0085"/><stop offset="0.423" stop-color="#4f0085"/><stop offset="0.462" stop-color="#4f0085"/><stop offset="0.500" stop-color="#4f0085"/><stop offset="0.538" stop-color="#4f0085"/><stop offset="0.577" stop-color="#4f0085"/><stop offset="0.615" stop-color="#4f0085"/><stop offset="0.654" stop-color="#4f0085"/><stop offset="0.692" stop-color="#530081"/><stop offset="0.731" stop-color="#57007d"/><stop offset="0.769" stop-color="#5c0079"/><stop offset="0.808" stop-color="#630073"/><stop offset="0.846" stop-color="#6d026a"/><stop offset="0.885" stop-color="#770563"/><stop offset="0.923" stop-color="#7f075c"/><stop offset="0.962" stop-color="#860957"/><stop offset="1.000" stop-color="#880a55"/></linearGradient>
</defs>
<line x1="646.2" y1="211.5" x2="646.2" y2="304.5" stroke="#e2e2e2" stroke-width="0.9"/>
<line x1="672.4" y1="211.5" x2="672.4" y2="304.5" stroke="#e2e2e2" stroke-width="0.9"/>
<line x1="698.3" y1="211.5" x2="698.3" y2="304.5" stroke="#e2e2e2" stroke-width="0.9"/>
<g clip-path="url(#h1c)"><g filter="url(#soft)"><rect x="645" y="224.6" width="66.2" height="66.3" fill="#8e0c50"/><rect x="653.18" y="225.8" width="1.25" height="63.9" fill="url(#s0)"/><rect x="654.18" y="225.8" width="1.25" height="63.9" fill="url(#s1)"/><rect x="655.17" y="225.8" width="1.25" height="63.9" fill="url(#s2)"/><rect x="656.17" y="225.8" width="1.25" height="63.9" fill="url(#s3)"/><rect x="657.17" y="225.8" width="1.25" height="63.9" fill="url(#s4)"/><rect x="658.16" y="225.8" width="1.25" height="63.9" fill="url(#s5)"/><rect x="659.16" y="225.8" width="1.25" height="63.9" fill="url(#s6)"/><rect x="660.16" y="225.8" width="1.25" height="63.9" fill="url(#s7)"/><rect x="661.15" y="225.8" width="1.25" height="63.9" fill="url(#s8)"/><rect x="669.13" y="225.8" width="1.25" height="63.9" fill="url(#s9)"/><rect x="670.12" y="225.8" width="1.25" height="63.9" fill="url(#s10)"/><rect x="671.12" y="225.8" width="1.25" height="63.9" fill="url(#s11)"/><rect x="672.12" y="225.8" width="1.25" height="63.9" fill="url(#s12)"/><rect x="673.12" y="225.8" width="1.25" height="63.9" fill="url(#s13)"/><rect x="674.11" y="225.8" width="1.25" height="63.9" fill="url(#s14)"/><rect x="675.11" y="225.8" width="1.25" height="63.9" fill="url(#s15)"/><rect x="676.11" y="225.8" width="1.25" height="63.9" fill="url(#s16)"/><rect x="677.10" y="225.8" width="1.25" height="63.9" fill="url(#s17)"/><rect x="678.10" y="225.8" width="1.25" height="63.9" fill="url(#s18)"/><rect x="679.10" y="225.8" width="1.25" height="63.9" fill="url(#s19)"/><rect x="680.09" y="225.8" width="1.25" height="63.9" fill="url(#s20)"/><rect x="681.09" y="225.8" width="1.25" height="63.9" fill="url(#s21)"/><rect x="682.09" y="225.8" width="1.25" height="63.9" fill="url(#s22)"/><rect x="683.08" y="225.8" width="1.25" height="63.9" fill="url(#s23)"/><rect x="684.08" y="225.8" width="1.25" height="63.9" fill="url(#s24)"/><rect x="685.08" y="225.8" width="1.25" height="63.9" fill="url(#s25)"/><rect x="686.08" y="225.8" width="1.25" height="63.9" fill="url(#s26)"/><rect x="694.05" y="225.8" width="1.25" height="63.9" fill="url(#s27)"/><rect x="695.05" y="225.8" width="1.25" height="63.9" fill="url(#s28)"/><rect x="696.04" y="225.8" width="1.25" height="63.9" fill="url(#s29)"/><rect x="697.04" y="225.8" width="1.25" height="63.9" fill="url(#s30)"/><rect x="698.04" y="225.8" width="1.25" height="63.9" fill="url(#s31)"/><rect x="699.03" y="225.8" width="1.25" height="63.9" fill="url(#s32)"/><rect x="700.03" y="225.8" width="1.25" height="63.9" fill="url(#s33)"/><rect x="701.03" y="225.8" width="1.25" height="63.9" fill="url(#s34)"/><rect x="702.03" y="225.8" width="1.25" height="63.9" fill="url(#s35)"/></g></g>
<text x="683.6" y="200.8" font-size="7.9" text-anchor="middle" fill="#505050" textLength="58.8" lengthAdjust="spacing">Particle Counts</text>
<text x="640.4" y="239.6" font-size="6.8" text-anchor="end" fill="#505050" textLength="8.2" lengthAdjust="spacing">20</text>
<line x1="642.2" y1="236.9" x2="645" y2="236.9" stroke="#555" stroke-width="0.7"/>
<text x="640.4" y="265.9" font-size="6.8" text-anchor="end" fill="#505050" textLength="8.2" lengthAdjust="spacing">10</text>
<line x1="642.2" y1="263.2" x2="645" y2="263.2" stroke="#555" stroke-width="0.7"/>
<text x="640.4" y="291.8" font-size="6.8" text-anchor="end" fill="#505050">0</text>
<line x1="642.2" y1="289.1" x2="645" y2="289.1" stroke="#555" stroke-width="0.7"/>
<text x="646.4" y="315.3" font-size="6.8" text-anchor="middle" fill="#505050">0</text>
<line x1="646.4" y1="304.5" x2="646.4" y2="307" stroke="#555" stroke-width="0.7"/>
<text x="672.5" y="315.3" font-size="6.8" text-anchor="middle" fill="#505050" textLength="8.0" lengthAdjust="spacing">10</text>
<line x1="672.5" y1="304.5" x2="672.5" y2="307" stroke="#555" stroke-width="0.7"/>
<text x="698.4" y="315.3" font-size="6.8" text-anchor="middle" fill="#505050" textLength="8.0" lengthAdjust="spacing">20</text>
<line x1="698.4" y1="304.5" x2="698.4" y2="307" stroke="#555" stroke-width="0.7"/>
<text x="677.9" y="327.3" font-size="7.3" text-anchor="middle" fill="#505050" textLength="50.1" lengthAdjust="spacing">Defocus Group</text>
<text transform="translate(626.6,258) rotate(-90)" font-size="7.3" text-anchor="middle" fill="#505050" textLength="61.1" lengthAdjust="spacing">Orientation Group</text>
<rect x="716.8" y="217.4" width="8.6" height="80.7" fill="url(#cbar)" filter="url(#soft)"/>
<text x="728.1" y="219.8" font-size="6.7" text-anchor="start" fill="#505050" textLength="16.4" lengthAdjust="spacing">8000</text>
<text x="728.1" y="240.20000000000002" font-size="6.7" text-anchor="start" fill="#505050" textLength="16.4" lengthAdjust="spacing">6000</text>
<text x="728.1" y="260.4" font-size="6.7" text-anchor="start" fill="#505050" textLength="16.4" lengthAdjust="spacing">4000</text>
<text x="728.1" y="280.4" font-size="6.7" text-anchor="start" fill="#505050" textLength="16.4" lengthAdjust="spacing">2000</text>
<text x="728.1" y="300.2" font-size="6.7" text-anchor="start" fill="#505050">0</text>
<line x1="791.4" y1="211.5" x2="791.4" y2="305.5" stroke="#e2e2e2" stroke-width="0.9"/>
<line x1="823" y1="211.5" x2="823" y2="305.5" stroke="#e2e2e2" stroke-width="0.9"/>
<line x1="853.8" y1="211.5" x2="853.8" y2="305.5" stroke="#e2e2e2" stroke-width="0.9"/>
<g clip-path="url(#h2c)"><g filter="url(#soft)"><rect x="789.7" y="218.8" width="78.2" height="78.2" fill="#0209f0"/><rect x="790.70" y="231.99" width="3.25" height="3.25" fill="#077bec"/><rect x="793.75" y="219.80" width="3.25" height="76.40" fill="#0102ef"/><rect x="796.80" y="219.80" width="3.25" height="76.40" fill="#0410f2"/><rect x="799.84" y="244.18" width="3.25" height="52.02" fill="#077bec"/><rect x="799.84" y="241.14" width="3.25" height="3.25" fill="#01a4df"/><rect x="799.84" y="219.80" width="3.25" height="21.54" fill="#077bec"/><rect x="802.89" y="262.47" width="3.25" height="33.73" fill="#00afd5"/><rect x="802.89" y="253.33" width="3.25" height="9.34" fill="#22e845"/><rect x="802.89" y="244.18" width="3.25" height="9.34" fill="#00d98f"/><rect x="802.89" y="241.14" width="3.25" height="3.25" fill="#0589e8"/><rect x="802.89" y="219.80" width="3.25" height="21.54" fill="#05df7e"/><rect x="808.99" y="271.62" width="3.25" height="24.58" fill="#8e0c50"/><rect x="808.99" y="268.57" width="3.25" height="3.25" fill="#077bec"/><rect x="808.99" y="241.14" width="3.25" height="3.25" fill="#077bec"/><rect x="812.04" y="219.80" width="3.25" height="76.40" fill="#8e0c50"/><rect x="815.08" y="219.80" width="3.25" height="76.40" fill="#8e0c50"/><rect x="818.13" y="259.42" width="3.25" height="3.25" fill="#077bec"/><rect x="818.13" y="256.38" width="3.25" height="3.25" fill="#1700c8"/><rect x="818.13" y="219.80" width="3.25" height="36.78" fill="#8e0c50"/><rect x="821.18" y="262.47" width="3.25" height="33.73" fill="#05df7e"/><rect x="821.18" y="228.94" width="3.25" height="33.73" fill="#94ee06"/><rect x="821.18" y="219.80" width="3.25" height="9.34" fill="#0fe26b"/><rect x="824.23" y="247.23" width="3.25" height="15.44" fill="#a4ee02"/><rect x="824.23" y="231.99" width="3.25" height="15.44" fill="#f4ee00"/><rect x="824.23" y="225.90" width="3.25" height="6.30" fill="#ff8500"/><rect x="824.23" y="219.80" width="3.25" height="6.30" fill="#f2230d"/><rect x="830.32" y="265.52" width="3.25" height="30.68" fill="#55ee18"/><rect x="830.32" y="253.33" width="3.25" height="12.39" fill="#ffee00"/><rect x="830.32" y="228.94" width="3.25" height="24.58" fill="#b1ee00"/><rect x="830.32" y="225.90" width="3.25" height="3.25" fill="#ffe100"/><rect x="830.32" y="219.80" width="3.25" height="6.30" fill="#ff5b00"/><rect x="833.37" y="292.95" width="3.25" height="3.25" fill="#00c8ab"/><rect x="833.37" y="222.85" width="3.25" height="70.30" fill="#36ee21"/><rect x="833.37" y="219.80" width="3.25" height="3.25" fill="#ffe100"/><rect x="836.42" y="222.85" width="3.25" height="73.35" fill="#081ef6"/><rect x="836.42" y="219.80" width="3.25" height="3.25" fill="#096df1"/><rect x="839.47" y="286.86" width="3.25" height="9.34" fill="#8e0c50"/><rect x="839.47" y="277.71" width="3.25" height="3.25" fill="#077bec"/><rect x="839.47" y="231.99" width="3.25" height="3.25" fill="#077bec"/><rect x="839.47" y="219.80" width="3.25" height="6.30" fill="#8e0c50"/><rect x="842.52" y="219.80" width="3.25" height="76.40" fill="#8e0c50"/><rect x="845.56" y="219.80" width="3.25" height="76.40" fill="#8e0c50"/><rect x="848.61" y="228.94" width="3.25" height="67.26" fill="#36ee21"/><rect x="848.61" y="219.80" width="3.25" height="9.34" fill="#05df7e"/><rect x="851.66" y="265.52" width="3.25" height="30.68" fill="#b1ee00"/><rect x="851.66" y="253.33" width="3.25" height="12.39" fill="#ffee00"/><rect x="851.66" y="228.94" width="3.25" height="24.58" fill="#b1ee00"/><rect x="851.66" y="225.90" width="3.25" height="3.25" fill="#ffe100"/><rect x="851.66" y="219.80" width="3.25" height="6.30" fill="#ff9300"/><rect x="854.71" y="219.80" width="3.25" height="76.40" fill="#0396e3"/><rect x="857.76" y="277.71" width="3.25" height="3.25" fill="#077bec"/><rect x="857.76" y="265.52" width="3.25" height="12.39" fill="#8e0c50"/><rect x="857.76" y="262.47" width="3.25" height="3.25" fill="#077bec"/><rect x="857.76" y="253.33" width="3.25" height="3.25" fill="#077bec"/><rect x="857.76" y="219.80" width="3.25" height="33.73" fill="#8e0c50"/><rect x="860.80" y="268.57" width="3.25" height="27.63" fill="#8e0c50"/><rect x="860.80" y="265.52" width="3.25" height="3.25" fill="#077bec"/><rect x="860.80" y="244.18" width="3.25" height="21.54" fill="#8e0c50"/><rect x="860.80" y="241.14" width="3.25" height="3.25" fill="#077bec"/><rect x="860.80" y="219.80" width="3.25" height="21.54" fill="#8e0c50"/><rect x="863.85" y="283.81" width="3.25" height="12.39" fill="#8e0c50"/><rect x="790.2" y="219.8" width="1.3" height="9" fill="#8e0c50"/></g></g>
<text x="828.5" y="200.8" font-size="7.9" text-anchor="middle" fill="#505050" textLength="45.8" lengthAdjust="spacing">Mean Score</text>
<text x="785" y="235.79999999999998" font-size="6.8" text-anchor="end" fill="#505050" textLength="8.2" lengthAdjust="spacing">20</text>
<line x1="786.8" y1="233.1" x2="789.6" y2="233.1" stroke="#555" stroke-width="0.7"/>
<text x="785" y="266.7" font-size="6.8" text-anchor="end" fill="#505050" textLength="8.2" lengthAdjust="spacing">10</text>
<line x1="786.8" y1="264" x2="789.6" y2="264" stroke="#555" stroke-width="0.7"/>
<text x="785" y="298.2" font-size="6.8" text-anchor="end" fill="#505050">0</text>
<line x1="786.8" y1="295.5" x2="789.6" y2="295.5" stroke="#555" stroke-width="0.7"/>
<text x="791.4" y="316" font-size="6.8" text-anchor="middle" fill="#505050">0</text>
<line x1="791.4" y1="305.5" x2="791.4" y2="308" stroke="#555" stroke-width="0.7"/>
<text x="823" y="316" font-size="6.8" text-anchor="middle" fill="#505050" textLength="8.0" lengthAdjust="spacing">10</text>
<line x1="823" y1="305.5" x2="823" y2="308" stroke="#555" stroke-width="0.7"/>
<text x="853.8" y="316" font-size="6.8" text-anchor="middle" fill="#505050" textLength="8.0" lengthAdjust="spacing">20</text>
<line x1="853.8" y1="305.5" x2="853.8" y2="308" stroke="#555" stroke-width="0.7"/>
<text x="828.8" y="327.3" font-size="7.3" text-anchor="middle" fill="#505050" textLength="50.1" lengthAdjust="spacing">Defocus Group</text>
<text transform="translate(771.6,258) rotate(-90)" font-size="7.3" text-anchor="middle" fill="#505050" textLength="61.1" lengthAdjust="spacing">Orientation Group</text>
<rect x="874.4" y="217.4" width="8.7" height="80.7" fill="url(#cbar)" filter="url(#soft)"/>
<text x="885.6" y="238.1" font-size="6.7" text-anchor="start" fill="#505050">3</text>
<text x="885.6" y="259.09999999999997" font-size="6.7" text-anchor="start" fill="#505050">2</text>
<text x="885.6" y="279.7" font-size="6.7" text-anchor="start" fill="#505050">1</text>
<text x="885.6" y="300.2" font-size="6.7" text-anchor="start" fill="#505050">0</text>
</svg>
</body>
</html>
